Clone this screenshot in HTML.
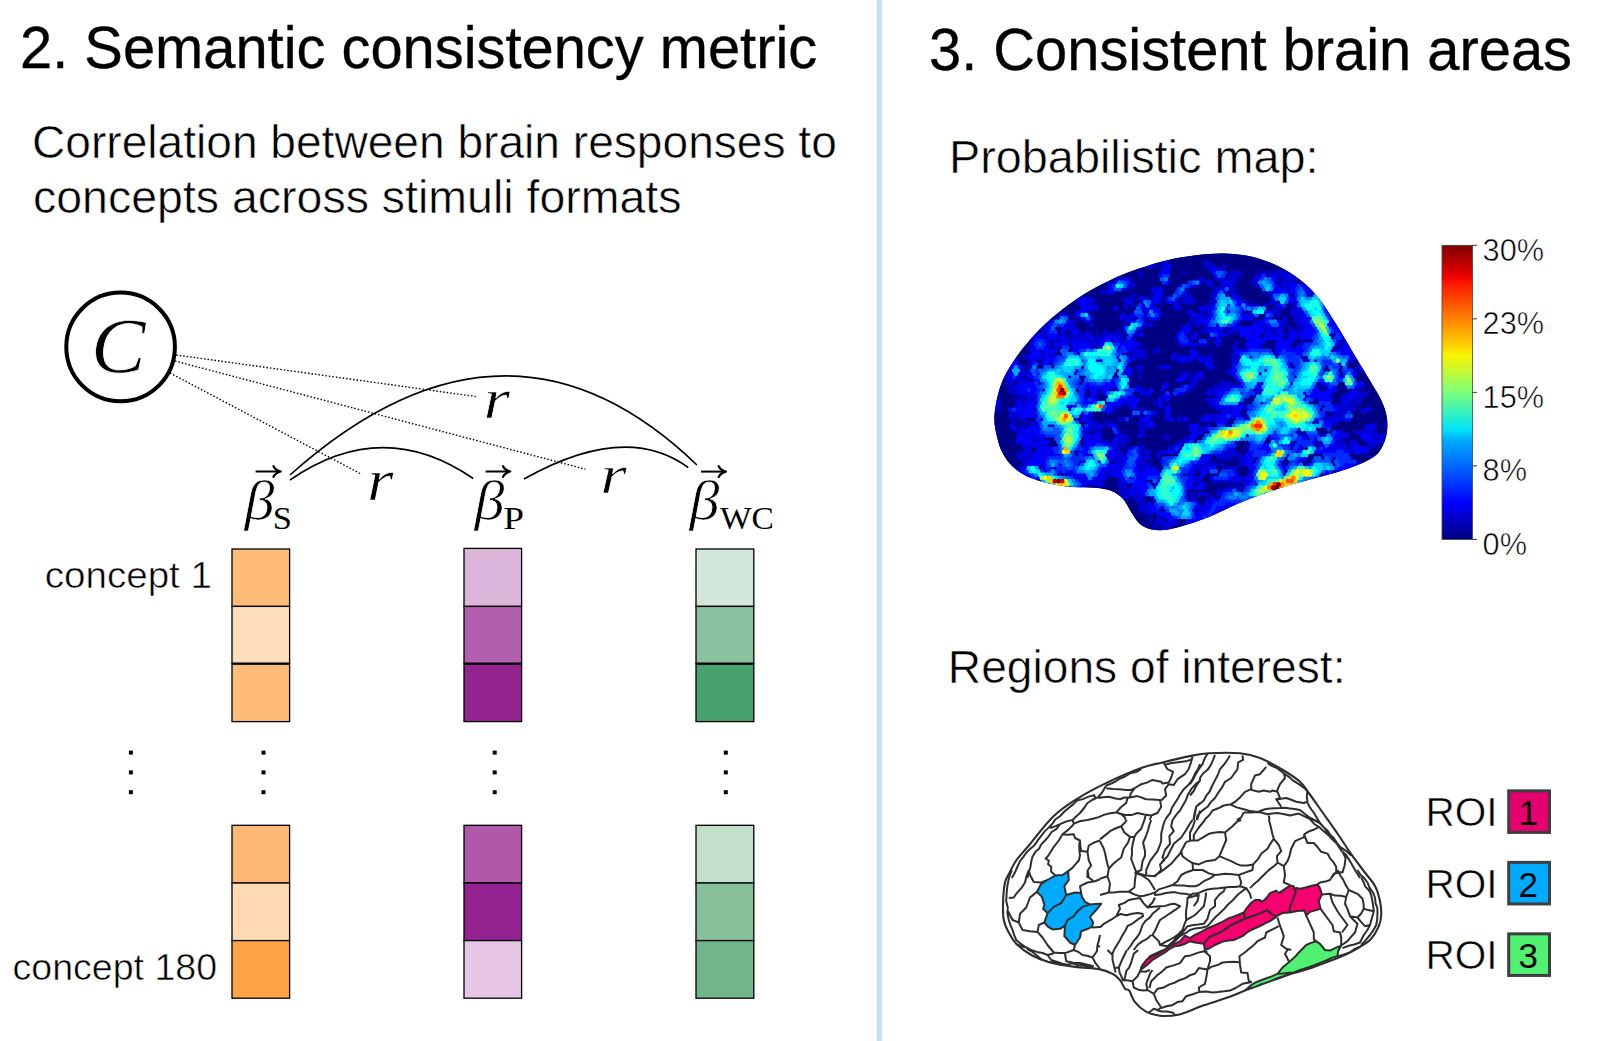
<!DOCTYPE html>
<html lang="en"><head><meta charset="utf-8"><title>Semantic consistency figure</title>
<style>
html,body{margin:0;padding:0;background:#fff;}
body{width:1600px;height:1041px;overflow:hidden;}
svg{display:block;}
text{fill:#000;white-space:pre;}
.lt{stroke:#fff;stroke-width:0.55px;}
.bd{stroke:#000;stroke-width:0.35px;}
.mi{stroke:#fff;stroke-width:0.7px;}
</style></head><body>
<svg width="1600" height="1041" viewBox="0 0 1600 1041">
<rect width="1600" height="1041" fill="#fff"/>
<rect x="876.6" y="0" width="5.6" height="1041" fill="#cbdef0"/>
<text x="20" y="68" font-family='"Liberation Sans", sans-serif' font-size="58.5" textLength="797.2" lengthAdjust="spacingAndGlyphs" class="bd">2. Semantic consistency metric</text>
<text x="929" y="70" font-family='"Liberation Sans", sans-serif' font-size="58.5" textLength="643" lengthAdjust="spacingAndGlyphs" class="bd">3. Consistent brain areas</text>
<text x="32" y="158" font-family='"Liberation Sans", sans-serif' font-size="45.5" textLength="804.8" lengthAdjust="spacingAndGlyphs" class="lt">Correlation between brain responses to</text>
<text x="33" y="212.5" font-family='"Liberation Sans", sans-serif' font-size="45.5" textLength="648.5" lengthAdjust="spacingAndGlyphs" class="lt">concepts across stimuli formats</text>
<text x="948.9" y="173" font-family='"Liberation Sans", sans-serif' font-size="45.5" textLength="369.7" lengthAdjust="spacingAndGlyphs" class="lt">Probabilistic map:</text>
<text x="947.8" y="683" font-family='"Liberation Sans", sans-serif' font-size="45.5" textLength="397.7" lengthAdjust="spacingAndGlyphs" class="lt">Regions of interest:</text>
<text x="44.7" y="588.4" font-family='"Liberation Sans", sans-serif' font-size="37" textLength="167.3" lengthAdjust="spacingAndGlyphs" class="lt">concept 1</text>
<text x="12.6" y="979.5" font-family='"Liberation Sans", sans-serif' font-size="37" textLength="204.5" lengthAdjust="spacingAndGlyphs" class="lt">concept 180</text>
<circle cx="120.6" cy="346.9" r="54.3" fill="none" stroke="#000" stroke-width="4"/>
<text transform="translate(91.00 372.23) scale(1.0586 1)" font-family='"Liberation Serif", serif' font-size="77.32" font-style="italic" class="mi">C</text>
<line x1="176.3" y1="355" x2="475.7" y2="396.5" stroke="#000" stroke-width="1.4" stroke-dasharray="1.5 2"/>
<line x1="175" y1="361" x2="585.4" y2="469.2" stroke="#000" stroke-width="1.4" stroke-dasharray="1.5 2"/>
<line x1="170" y1="373" x2="361" y2="474" stroke="#000" stroke-width="1.4" stroke-dasharray="1.5 2"/>
<path d="M290 480 Q382.4 415.95000000000005 473.2 478.5" fill="none" stroke="#000" stroke-width="1.6"/>
<path d="M524 479 Q625.9 421.54999999999995 688.2 467.5" fill="none" stroke="#000" stroke-width="1.6"/>
<path d="M290 475 Q506.55 282.0 696.9 465" fill="none" stroke="#000" stroke-width="1.6"/>
<text transform="translate(366.88 500.00) scale(1.1594 1)" font-family='"Liberation Serif", serif' font-size="58.72" font-style="italic" class="mi">r</text>
<text transform="translate(600.28 493.00) scale(1.2308 1)" font-family='"Liberation Serif", serif' font-size="55.32" font-style="italic" class="mi">r</text>
<text transform="translate(483.48 418.00) scale(1.1852 1)" font-family='"Liberation Serif", serif' font-size="57.45" font-style="italic" class="mi">r</text>
<text transform="translate(244.50 519.42) scale(1.1028 1)" font-family='"Liberation Serif", serif' font-size="54.50" font-style="italic" class="mi">β</text>
<text transform="translate(474.55 519.42) scale(1.1028 1)" font-family='"Liberation Serif", serif' font-size="54.50" font-style="italic" class="mi">β</text>
<text transform="translate(689.60 519.42) scale(1.1028 1)" font-family='"Liberation Serif", serif' font-size="54.50" font-style="italic" class="mi">β</text>
<text transform="translate(272.68 529.28) scale(1.0608 1)" font-family='"Liberation Serif", serif' font-size="32.42">S</text>
<text transform="translate(503.28 529.00) scale(1.1983 1)" font-family='"Liberation Serif", serif' font-size="31.15">P</text>
<text transform="translate(719.90 528.92) scale(1.0345 1)" font-family='"Liberation Serif", serif' font-size="32.32">WC</text>
<path d="M255.6 471.5 H279.7" stroke="#000" stroke-width="2" fill="none"/>
<path d="M273.5 466.2 Q275.5 470.3 280.7 471.5 Q275.5 472.7 273.5 476.8" stroke="#000" stroke-width="2.3" fill="none" stroke-linecap="round" stroke-linejoin="round"/>
<path d="M485.6 471.5 H509.2" stroke="#000" stroke-width="2" fill="none"/>
<path d="M503.0 466.2 Q505.0 470.3 510.2 471.5 Q505.0 472.7 503.0 476.8" stroke="#000" stroke-width="2.3" fill="none" stroke-linecap="round" stroke-linejoin="round"/>
<path d="M701 471.6 H724.9" stroke="#000" stroke-width="2" fill="none"/>
<path d="M718.6999999999999 466.3 Q720.6999999999999 470.40000000000003 725.9 471.6 Q720.6999999999999 472.8 718.6999999999999 476.90000000000003" stroke="#000" stroke-width="2.3" fill="none" stroke-linecap="round" stroke-linejoin="round"/>
<rect x="232" y="549" width="57.60000000000002" height="57.39999999999998" fill="#ffbc78" stroke="#000" stroke-width="1.3"/>
<rect x="232" y="606.4" width="57.60000000000002" height="57.30000000000007" fill="#ffdebd" stroke="#000" stroke-width="1.3"/>
<rect x="232" y="663.7" width="57.60000000000002" height="57.89999999999998" fill="#ffbc78" stroke="#000" stroke-width="1.3"/>
<path d="M232 663.7 H289.6" stroke="#000" stroke-width="2.2"/>
<rect x="464" y="548.4" width="57.60000000000002" height="58.0" fill="#dcb5da" stroke="#000" stroke-width="1.3"/>
<rect x="464" y="606.4" width="57.60000000000002" height="57.30000000000007" fill="#b25faf" stroke="#000" stroke-width="1.3"/>
<rect x="464" y="663.7" width="57.60000000000002" height="57.89999999999998" fill="#93248f" stroke="#000" stroke-width="1.3"/>
<path d="M464 663.7 H521.6" stroke="#000" stroke-width="2.2"/>
<rect x="696" y="549" width="57.799999999999955" height="57.39999999999998" fill="#d2e7da" stroke="#000" stroke-width="1.3"/>
<rect x="696" y="606.4" width="57.799999999999955" height="57.30000000000007" fill="#8bc3a0" stroke="#000" stroke-width="1.3"/>
<rect x="696" y="663.7" width="57.799999999999955" height="57.89999999999998" fill="#47a270" stroke="#000" stroke-width="1.3"/>
<path d="M696 663.7 H753.8" stroke="#000" stroke-width="2.2"/>
<rect x="232" y="825.3" width="57.60000000000002" height="57.700000000000045" fill="#ffb873" stroke="#000" stroke-width="1.3"/>
<rect x="232" y="883" width="57.60000000000002" height="57.60000000000002" fill="#ffdab3" stroke="#000" stroke-width="1.3"/>
<rect x="232" y="940.6" width="57.60000000000002" height="57.60000000000002" fill="#ffa548" stroke="#000" stroke-width="1.3"/>
<rect x="464" y="825.3" width="57.60000000000002" height="57.700000000000045" fill="#b058a9" stroke="#000" stroke-width="1.3"/>
<rect x="464" y="883" width="57.60000000000002" height="57.60000000000002" fill="#92228f" stroke="#000" stroke-width="1.3"/>
<rect x="464" y="940.6" width="57.60000000000002" height="57.60000000000002" fill="#e5c5e3" stroke="#000" stroke-width="1.3"/>
<rect x="696" y="825.3" width="57.799999999999955" height="57.700000000000045" fill="#c3dfce" stroke="#000" stroke-width="1.3"/>
<rect x="696" y="883" width="57.799999999999955" height="57.60000000000002" fill="#87c19c" stroke="#000" stroke-width="1.3"/>
<rect x="696" y="940.6" width="57.799999999999955" height="57.60000000000002" fill="#71b58b" stroke="#000" stroke-width="1.3"/>
<rect x="128.9" y="750.6" width="4" height="4" fill="#000"/>
<rect x="128.9" y="770.4" width="4" height="4" fill="#000"/>
<rect x="128.9" y="790.2" width="4" height="4" fill="#000"/>
<rect x="261.5" y="750.6" width="4" height="4" fill="#000"/>
<rect x="261.5" y="770.4" width="4" height="4" fill="#000"/>
<rect x="261.5" y="790.2" width="4" height="4" fill="#000"/>
<rect x="492.7" y="750.6" width="4" height="4" fill="#000"/>
<rect x="492.7" y="770.4" width="4" height="4" fill="#000"/>
<rect x="492.7" y="790.2" width="4" height="4" fill="#000"/>
<rect x="723.8" y="750.6" width="4" height="4" fill="#000"/>
<rect x="723.8" y="770.4" width="4" height="4" fill="#000"/>
<rect x="723.8" y="790.2" width="4" height="4" fill="#000"/>
<defs><linearGradient id="jet" x1="0" y1="1" x2="0" y2="0">
<stop offset="0" stop-color="#00007f"/><stop offset="0.11" stop-color="#0000f0"/><stop offset="0.125" stop-color="#0000ff"/>
<stop offset="0.34" stop-color="#00b0ff"/><stop offset="0.375" stop-color="#00e4f8"/><stop offset="0.5" stop-color="#7dff7a"/><stop offset="0.625" stop-color="#f8f500"/>
<stop offset="0.66" stop-color="#ffd000"/><stop offset="0.875" stop-color="#ff1300"/><stop offset="0.89" stop-color="#f00000"/><stop offset="1" stop-color="#7f0000"/>
</linearGradient></defs>
<rect x="1442" y="245.3" width="30.5" height="294.1" fill="url(#jet)" stroke="#444" stroke-width="0.8"/>
<path d="M1472.5 245.3 H1477" stroke="#333" stroke-width="1"/>
<text x="1482.6" y="260.5" font-family='"Liberation Sans", sans-serif' font-size="30.5" textLength="61.4" lengthAdjust="spacingAndGlyphs" class="lt">30%</text>
<path d="M1472.5 318.83000000000004 H1477" stroke="#333" stroke-width="1"/>
<text x="1482.6" y="334.0" font-family='"Liberation Sans", sans-serif' font-size="30.5" textLength="61.4" lengthAdjust="spacingAndGlyphs" class="lt">23%</text>
<path d="M1472.5 392.36 H1477" stroke="#333" stroke-width="1"/>
<text x="1482.6" y="407.6" font-family='"Liberation Sans", sans-serif' font-size="30.5" textLength="61.4" lengthAdjust="spacingAndGlyphs" class="lt">15%</text>
<path d="M1472.5 465.89 H1477" stroke="#333" stroke-width="1"/>
<text x="1482.6" y="481.1" font-family='"Liberation Sans", sans-serif' font-size="30.5" textLength="44.4" lengthAdjust="spacingAndGlyphs" class="lt">8%</text>
<path d="M1472.5 539.4200000000001 H1477" stroke="#333" stroke-width="1"/>
<text x="1482.6" y="554.6" font-family='"Liberation Sans", sans-serif' font-size="30.5" textLength="44.4" lengthAdjust="spacingAndGlyphs" class="lt">0%</text>
<text x="1425.5" y="826.25" font-family='"Liberation Sans", sans-serif' font-size="40" textLength="72" lengthAdjust="spacingAndGlyphs" class="lt">ROI</text>
<rect x="1508.7" y="790.85" width="40.8" height="41.6" fill="#e5006e" stroke="#3c4040" stroke-width="3"/>
<text x="1528.3" y="825.45" font-family='"Liberation Sans", sans-serif' font-size="35" text-anchor="middle">1</text>
<text x="1425.5" y="897.75" font-family='"Liberation Sans", sans-serif' font-size="40" textLength="72" lengthAdjust="spacingAndGlyphs" class="lt">ROI</text>
<rect x="1508.7" y="862.35" width="40.8" height="41.6" fill="#00aaff" stroke="#3c4040" stroke-width="3"/>
<text x="1528.3" y="896.95" font-family='"Liberation Sans", sans-serif' font-size="35" text-anchor="middle">2</text>
<text x="1425.5" y="969.25" font-family='"Liberation Sans", sans-serif' font-size="40" textLength="72" lengthAdjust="spacingAndGlyphs" class="lt">ROI</text>
<rect x="1508.7" y="933.85" width="40.8" height="41.6" fill="#50f070" stroke="#3c4040" stroke-width="3"/>
<text x="1528.3" y="968.45" font-family='"Liberation Sans", sans-serif' font-size="35" text-anchor="middle">3</text>
<defs><clipPath id="bclip"><path d="M1223.3 253.6C1232.6 253.8 1242.9 254.6 1252.0 256.7C1261.1 258.8 1269.8 262.1 1278.0 266.0C1286.2 269.9 1294.3 275.1 1301.0 280.4C1307.7 285.7 1312.6 290.5 1318.4 297.7C1324.2 304.9 1329.9 314.5 1335.7 323.6C1341.5 332.7 1347.2 342.9 1353.0 352.5C1358.8 362.1 1365.5 373.1 1370.3 381.3C1375.1 389.5 1379.0 395.2 1381.8 401.5C1384.6 407.8 1386.3 413.0 1387.0 418.8C1387.7 424.6 1387.5 430.6 1386.2 436.1C1384.9 441.6 1382.6 447.6 1379.0 451.9C1375.4 456.2 1370.8 458.9 1364.5 462.0C1358.2 465.1 1349.7 468.1 1341.5 470.7C1333.3 473.3 1324.2 475.5 1315.5 477.9C1306.8 480.3 1298.2 482.5 1289.6 485.1C1280.9 487.8 1272.2 490.7 1263.6 493.8C1254.9 496.9 1246.2 500.2 1237.7 503.8C1229.2 507.4 1220.8 512.0 1212.5 515.4C1204.2 518.8 1195.7 521.9 1188.1 524.3C1180.5 526.7 1173.2 528.9 1167.0 529.7C1160.8 530.5 1155.3 530.2 1150.7 529.2C1146.1 528.2 1142.7 526.4 1139.4 523.5C1136.2 520.6 1133.9 516.2 1131.2 512.1C1128.5 508.0 1126.3 502.6 1123.1 499.1C1119.8 495.6 1116.3 492.9 1111.7 491.0C1107.1 489.1 1102.0 488.4 1095.5 487.7C1089.0 487.0 1080.3 487.6 1072.7 486.9C1065.1 486.2 1057.6 485.4 1050.0 483.7C1042.4 481.9 1033.4 479.2 1027.2 476.4C1021.0 473.5 1016.7 470.4 1012.6 466.6C1008.5 462.8 1005.5 458.5 1002.9 453.6C1000.3 448.7 998.6 443.7 997.2 437.4C995.8 431.1 993.9 424.4 994.4 416.0C994.9 407.6 997.3 395.7 1000.2 387.0C1003.1 378.3 1006.9 371.7 1011.7 364.0C1016.5 356.3 1022.3 348.6 1029.0 340.9C1035.7 333.2 1043.4 325.2 1052.1 317.8C1060.8 310.4 1071.3 302.4 1080.9 296.2C1090.5 290.0 1100.1 285.0 1109.7 280.4C1119.3 275.8 1128.9 272.2 1138.5 268.8C1148.1 265.4 1157.8 262.4 1167.4 260.2C1177.0 257.9 1186.9 256.4 1196.2 255.3C1205.5 254.2 1214.0 253.4 1223.3 253.6Z"/></clipPath><filter id="soft" x="-2%" y="-2%" width="104%" height="104%"><feGaussianBlur stdDeviation="0.55"/></filter></defs>
<path d="M1223.3 253.6C1232.6 253.8 1242.9 254.6 1252.0 256.7C1261.1 258.8 1269.8 262.1 1278.0 266.0C1286.2 269.9 1294.3 275.1 1301.0 280.4C1307.7 285.7 1312.6 290.5 1318.4 297.7C1324.2 304.9 1329.9 314.5 1335.7 323.6C1341.5 332.7 1347.2 342.9 1353.0 352.5C1358.8 362.1 1365.5 373.1 1370.3 381.3C1375.1 389.5 1379.0 395.2 1381.8 401.5C1384.6 407.8 1386.3 413.0 1387.0 418.8C1387.7 424.6 1387.5 430.6 1386.2 436.1C1384.9 441.6 1382.6 447.6 1379.0 451.9C1375.4 456.2 1370.8 458.9 1364.5 462.0C1358.2 465.1 1349.7 468.1 1341.5 470.7C1333.3 473.3 1324.2 475.5 1315.5 477.9C1306.8 480.3 1298.2 482.5 1289.6 485.1C1280.9 487.8 1272.2 490.7 1263.6 493.8C1254.9 496.9 1246.2 500.2 1237.7 503.8C1229.2 507.4 1220.8 512.0 1212.5 515.4C1204.2 518.8 1195.7 521.9 1188.1 524.3C1180.5 526.7 1173.2 528.9 1167.0 529.7C1160.8 530.5 1155.3 530.2 1150.7 529.2C1146.1 528.2 1142.7 526.4 1139.4 523.5C1136.2 520.6 1133.9 516.2 1131.2 512.1C1128.5 508.0 1126.3 502.6 1123.1 499.1C1119.8 495.6 1116.3 492.9 1111.7 491.0C1107.1 489.1 1102.0 488.4 1095.5 487.7C1089.0 487.0 1080.3 487.6 1072.7 486.9C1065.1 486.2 1057.6 485.4 1050.0 483.7C1042.4 481.9 1033.4 479.2 1027.2 476.4C1021.0 473.5 1016.7 470.4 1012.6 466.6C1008.5 462.8 1005.5 458.5 1002.9 453.6C1000.3 448.7 998.6 443.7 997.2 437.4C995.8 431.1 993.9 424.4 994.4 416.0C994.9 407.6 997.3 395.7 1000.2 387.0C1003.1 378.3 1006.9 371.7 1011.7 364.0C1016.5 356.3 1022.3 348.6 1029.0 340.9C1035.7 333.2 1043.4 325.2 1052.1 317.8C1060.8 310.4 1071.3 302.4 1080.9 296.2C1090.5 290.0 1100.1 285.0 1109.7 280.4C1119.3 275.8 1128.9 272.2 1138.5 268.8C1148.1 265.4 1157.8 262.4 1167.4 260.2C1177.0 257.9 1186.9 256.4 1196.2 255.3C1205.5 254.2 1214.0 253.4 1223.3 253.6Z" fill="#000084"/>
<g clip-path="url(#bclip)"><g filter="url(#soft)" fill="none" stroke-width="4.7" stroke-linecap="round">
<rect x="985" y="245" width="410" height="295" fill="#000084" stroke="none"/>
<path stroke="#0000d4" d="M1163.9 263h0M1167.6 263h0M1204.6 263h0M1208.3 263h0M1147.3 266.3h0M1151 266.3h0M1154.7 266.3h0M1162.1 266.3h0M1165.8 266.3h0M1206.5 266.3h0M1210.2 266.3h0M1213.9 266.3h0M1225 266.3h0M1219.4 269.5h0M1223.1 269.5h0M1286 269.5h0M1139.9 272.8h0M1165.8 272.8h0M1169.5 272.8h0M1184.3 272.8h0M1232.4 272.8h0M1236.1 272.8h0M1239.8 272.8h0M1262 272.8h0M1265.7 272.8h0M1273.1 272.8h0M1276.8 272.8h0M1280.5 272.8h0M1284.2 272.8h0M1287.9 272.8h0M1291.6 272.8h0M1141.7 276h0M1230.5 276h0M1234.2 276h0M1237.9 276h0M1256.4 276h0M1260.1 276h0M1274.9 276h0M1278.6 276h0M1282.3 276h0M1286 276h0M1289.7 276h0M1293.4 276h0M1117.7 279.3h0M1121.4 279.3h0M1125.1 279.3h0M1128.8 279.3h0M1199.1 279.3h0M1202.8 279.3h0M1217.6 279.3h0M1221.3 279.3h0M1225 279.3h0M1228.7 279.3h0M1232.4 279.3h0M1236.1 279.3h0M1254.6 279.3h0M1258.3 279.3h0M1276.8 279.3h0M1284.2 279.3h0M1287.9 279.3h0M1291.6 279.3h0M1295.3 279.3h0M1108.4 282.6h0M1200.9 282.6h0M1212 282.6h0M1223.1 282.6h0M1230.5 282.6h0M1234.2 282.6h0M1252.7 282.6h0M1256.4 282.6h0M1282.3 282.6h0M1286 282.6h0M1289.7 282.6h0M1293.4 282.6h0M1110.3 285.8h0M1128.8 285.8h0M1132.5 285.8h0M1180.6 285.8h0M1195.4 285.8h0M1210.2 285.8h0M1221.3 285.8h0M1225 285.8h0M1232.4 285.8h0M1258.3 285.8h0M1284.2 285.8h0M1287.9 285.8h0M1108.4 289.1h0M1123.2 289.1h0M1126.9 289.1h0M1156.5 289.1h0M1186.1 289.1h0M1215.7 289.1h0M1219.4 289.1h0M1230.5 289.1h0M1234.2 289.1h0M1278.6 289.1h0M1286 289.1h0M1289.7 289.1h0M1102.9 292.3h0M1106.6 292.3h0M1114 292.3h0M1154.7 292.3h0M1162.1 292.3h0M1213.9 292.3h0M1225 292.3h0M1232.4 292.3h0M1265.7 292.3h0M1269.4 292.3h0M1273.1 292.3h0M1287.9 292.3h0M1310.1 292.3h0M1313.8 292.3h0M1134.3 295.6h0M1152.8 295.6h0M1182.4 295.6h0M1186.1 295.6h0M1189.8 295.6h0M1212 295.6h0M1215.7 295.6h0M1226.8 295.6h0M1237.9 295.6h0M1271.2 295.6h0M1289.7 295.6h0M1311.9 295.6h0M1077 298.8h0M1080.7 298.8h0M1088.1 298.8h0M1091.8 298.8h0M1125.1 298.8h0M1128.8 298.8h0M1132.5 298.8h0M1139.9 298.8h0M1147.3 298.8h0M1165.8 298.8h0M1184.3 298.8h0M1188 298.8h0M1191.7 298.8h0M1213.9 298.8h0M1232.4 298.8h0M1239.8 298.8h0M1273.1 298.8h0M1078.8 302.1h0M1089.9 302.1h0M1093.6 302.1h0M1126.9 302.1h0M1141.7 302.1h0M1152.8 302.1h0M1160.2 302.1h0M1167.6 302.1h0M1175 302.1h0M1182.4 302.1h0M1186.1 302.1h0M1189.8 302.1h0M1193.5 302.1h0M1212 302.1h0M1215.7 302.1h0M1245.3 302.1h0M1271.2 302.1h0M1274.9 302.1h0M1289.7 302.1h0M1293.4 302.1h0M1080.7 305.4h0M1088.1 305.4h0M1091.8 305.4h0M1095.5 305.4h0M1125.1 305.4h0M1132.5 305.4h0M1143.6 305.4h0M1206.5 305.4h0M1210.2 305.4h0M1213.9 305.4h0M1250.9 305.4h0M1254.6 305.4h0M1258.3 305.4h0M1265.7 305.4h0M1276.8 305.4h0M1295.3 305.4h0M1082.5 308.6h0M1093.6 308.6h0M1097.3 308.6h0M1126.9 308.6h0M1145.4 308.6h0M1175 308.6h0M1204.6 308.6h0M1208.3 308.6h0M1274.9 308.6h0M1278.6 308.6h0M1282.3 308.6h0M1293.4 308.6h0M1297.1 308.6h0M1077 311.9h0M1143.6 311.9h0M1147.3 311.9h0M1154.7 311.9h0M1188 311.9h0M1191.7 311.9h0M1202.8 311.9h0M1250.9 311.9h0M1265.7 311.9h0M1273.1 311.9h0M1276.8 311.9h0M1291.6 311.9h0M1295.3 311.9h0M1299 311.9h0M1328.6 311.9h0M1060.3 315.1h0M1064 315.1h0M1067.7 315.1h0M1075.1 315.1h0M1089.9 315.1h0M1130.6 315.1h0M1145.4 315.1h0M1160.2 315.1h0M1197.2 315.1h0M1200.9 315.1h0M1204.6 315.1h0M1274.9 315.1h0M1278.6 315.1h0M1293.4 315.1h0M1297.1 315.1h0M1300.8 315.1h0M1330.4 315.1h0M1058.5 318.4h0M1080.7 318.4h0M1091.8 318.4h0M1125.1 318.4h0M1128.8 318.4h0M1132.5 318.4h0M1143.6 318.4h0M1158.4 318.4h0M1191.7 318.4h0M1195.4 318.4h0M1199.1 318.4h0M1202.8 318.4h0M1206.5 318.4h0M1284.2 318.4h0M1295.3 318.4h0M1299 318.4h0M1310.1 318.4h0M1049.2 321.6h0M1071.4 321.6h0M1075.1 321.6h0M1086.2 321.6h0M1089.9 321.6h0M1126.9 321.6h0M1130.6 321.6h0M1145.4 321.6h0M1193.5 321.6h0M1197.2 321.6h0M1256.4 321.6h0M1260.1 321.6h0M1282.3 321.6h0M1286 321.6h0M1297.1 321.6h0M1300.8 321.6h0M1047.4 324.9h0M1069.6 324.9h0M1073.3 324.9h0M1091.8 324.9h0M1125.1 324.9h0M1143.6 324.9h0M1147.3 324.9h0M1188 324.9h0M1195.4 324.9h0M1199.1 324.9h0M1217.6 324.9h0M1262 324.9h0M1265.7 324.9h0M1280.5 324.9h0M1284.2 324.9h0M1299 324.9h0M1302.7 324.9h0M1328.6 324.9h0M1041.8 328.1h0M1045.5 328.1h0M1067.7 328.1h0M1071.4 328.1h0M1075.1 328.1h0M1123.2 328.1h0M1141.7 328.1h0M1182.4 328.1h0M1189.8 328.1h0M1204.6 328.1h0M1208.3 328.1h0M1212 328.1h0M1230.5 328.1h0M1234.2 328.1h0M1237.9 328.1h0M1263.8 328.1h0M1267.5 328.1h0M1271.2 328.1h0M1274.9 328.1h0M1278.6 328.1h0M1282.3 328.1h0M1289.7 328.1h0M1300.8 328.1h0M1304.5 328.1h0M1043.7 331.4h0M1047.4 331.4h0M1062.2 331.4h0M1065.9 331.4h0M1088.1 331.4h0M1106.6 331.4h0M1117.7 331.4h0M1125.1 331.4h0M1136.2 331.4h0M1180.6 331.4h0M1202.8 331.4h0M1206.5 331.4h0M1221.3 331.4h0M1228.7 331.4h0M1232.4 331.4h0M1236.1 331.4h0M1239.8 331.4h0M1254.6 331.4h0M1265.7 331.4h0M1269.4 331.4h0M1273.1 331.4h0M1276.8 331.4h0M1291.6 331.4h0M1295.3 331.4h0M1299 331.4h0M1302.7 331.4h0M1034.4 334.7h0M1038.1 334.7h0M1041.8 334.7h0M1045.5 334.7h0M1064 334.7h0M1071.4 334.7h0M1075.1 334.7h0M1078.8 334.7h0M1082.5 334.7h0M1086.2 334.7h0M1089.9 334.7h0M1097.3 334.7h0M1104.7 334.7h0M1108.4 334.7h0M1112.1 334.7h0M1115.8 334.7h0M1119.5 334.7h0M1126.9 334.7h0M1134.3 334.7h0M1138 334.7h0M1186.1 334.7h0M1193.5 334.7h0M1197.2 334.7h0M1223.1 334.7h0M1226.8 334.7h0M1252.7 334.7h0M1260.1 334.7h0M1271.2 334.7h0M1274.9 334.7h0M1278.6 334.7h0M1297.1 334.7h0M1300.8 334.7h0M1330.4 334.7h0M1032.6 337.9h0M1043.7 337.9h0M1047.4 337.9h0M1058.5 337.9h0M1065.9 337.9h0M1073.3 337.9h0M1077 337.9h0M1080.7 337.9h0M1084.4 337.9h0M1088.1 337.9h0M1099.2 337.9h0M1102.9 337.9h0M1117.7 337.9h0M1121.4 337.9h0M1132.5 337.9h0M1176.9 337.9h0M1191.7 337.9h0M1195.4 337.9h0M1210.2 337.9h0M1254.6 337.9h0M1295.3 337.9h0M1049.2 341.2h0M1056.6 341.2h0M1067.7 341.2h0M1071.4 341.2h0M1078.8 341.2h0M1082.5 341.2h0M1093.6 341.2h0M1097.3 341.2h0M1119.5 341.2h0M1123.2 341.2h0M1126.9 341.2h0M1134.3 341.2h0M1178.7 341.2h0M1189.8 341.2h0M1215.7 341.2h0M1293.4 341.2h0M1345.2 341.2h0M1032.6 344.4h0M1077 344.4h0M1091.8 344.4h0M1095.5 344.4h0M1099.2 344.4h0M1136.2 344.4h0M1139.9 344.4h0M1180.6 344.4h0M1191.7 344.4h0M1195.4 344.4h0M1199.1 344.4h0M1202.8 344.4h0M1206.5 344.4h0M1236.1 344.4h0M1258.3 344.4h0M1262 344.4h0M1030.7 347.7h0M1049.2 347.7h0M1056.6 347.7h0M1093.6 347.7h0M1101 347.7h0M1134.3 347.7h0M1138 347.7h0M1234.2 347.7h0M1341.5 347.7h0M1040 350.9h0M1043.7 350.9h0M1128.8 350.9h0M1132.5 350.9h0M1136.2 350.9h0M1139.9 350.9h0M1143.6 350.9h0M1154.7 350.9h0M1158.4 350.9h0M1195.4 350.9h0M1350.8 350.9h0M1030.7 354.2h0M1041.8 354.2h0M1045.5 354.2h0M1049.2 354.2h0M1052.9 354.2h0M1123.2 354.2h0M1134.3 354.2h0M1138 354.2h0M1141.7 354.2h0M1145.4 354.2h0M1175 354.2h0M1197.2 354.2h0M1234.2 354.2h0M1237.9 354.2h0M1352.6 354.2h0M1025.2 357.4h0M1028.9 357.4h0M1043.7 357.4h0M1051.1 357.4h0M1117.7 357.4h0M1132.5 357.4h0M1136.2 357.4h0M1139.9 357.4h0M1143.6 357.4h0M1176.9 357.4h0M1180.6 357.4h0M1184.3 357.4h0M1188 357.4h0M1195.4 357.4h0M1199.1 357.4h0M1202.8 357.4h0M1206.5 357.4h0M1210.2 357.4h0M1232.4 357.4h0M1236.1 357.4h0M1250.9 357.4h0M1276.8 357.4h0M1354.5 357.4h0M1015.9 360.7h0M1030.7 360.7h0M1097.3 360.7h0M1119.5 360.7h0M1178.7 360.7h0M1186.1 360.7h0M1189.8 360.7h0M1204.6 360.7h0M1208.3 360.7h0M1212 360.7h0M1234.2 360.7h0M1304.5 360.7h0M1308.2 360.7h0M1315.6 360.7h0M1348.9 360.7h0M1352.6 360.7h0M1017.8 364h0M1210.2 364h0M1232.4 364h0M1339.7 364h0M1347.1 364h0M1023.3 367.2h0M1030.7 367.2h0M1138 367.2h0M1141.7 367.2h0M1160.2 367.2h0M1163.9 367.2h0M1208.3 367.2h0M1010.4 370.5h0M1021.5 370.5h0M1028.9 370.5h0M1077 370.5h0M1125.1 370.5h0M1132.5 370.5h0M1139.9 370.5h0M1228.7 370.5h0M1265.7 370.5h0M1354.5 370.5h0M1361.9 370.5h0M1008.5 373.7h0M1019.6 373.7h0M1023.3 373.7h0M1027 373.7h0M1075.1 373.7h0M1123.2 373.7h0M1126.9 373.7h0M1182.4 373.7h0M1186.1 373.7h0M1197.2 373.7h0M1230.5 373.7h0M1260.1 373.7h0M1356.3 373.7h0M1006.7 377h0M1010.4 377h0M1017.8 377h0M1021.5 377h0M1069.6 377h0M1084.4 377h0M1117.7 377h0M1128.8 377h0M1139.9 377h0M1180.6 377h0M1188 377h0M1191.7 377h0M1195.4 377h0M1199.1 377h0M1202.8 377h0M1354.5 377h0M1008.5 380.2h0M1015.9 380.2h0M1019.6 380.2h0M1023.3 380.2h0M1182.4 380.2h0M1193.5 380.2h0M1197.2 380.2h0M1006.7 383.5h0M1010.4 383.5h0M1165.8 383.5h0M1191.7 383.5h0M1195.4 383.5h0M1221.3 383.5h0M1225 383.5h0M1228.7 383.5h0M1258.3 383.5h0M1262 383.5h0M1291.6 383.5h0M1012.2 386.8h0M1015.9 386.8h0M1138 386.8h0M1167.6 386.8h0M1193.5 386.8h0M1215.7 386.8h0M1219.4 386.8h0M1223.1 386.8h0M1226.8 386.8h0M1230.5 386.8h0M1326.7 386.8h0M1360 386.8h0M1363.7 386.8h0M1010.4 390h0M1014.1 390h0M1017.8 390h0M1043.7 390h0M1102.9 390h0M1143.6 390h0M1162.1 390h0M1188 390h0M1210.2 390h0M1213.9 390h0M1217.6 390h0M1221.3 390h0M1254.6 390h0M1258.3 390h0M1262 390h0M1336 390h0M1354.5 390h0M1012.2 393.3h0M1015.9 393.3h0M1019.6 393.3h0M1097.3 393.3h0M1145.4 393.3h0M1182.4 393.3h0M1212 393.3h0M1215.7 393.3h0M1256.4 393.3h0M1260.1 393.3h0M1348.9 393.3h0M1360 393.3h0M1363.7 393.3h0M1367.4 393.3h0M1021.5 396.5h0M1028.9 396.5h0M1032.6 396.5h0M1095.5 396.5h0M1147.3 396.5h0M1162.1 396.5h0M1169.5 396.5h0M1217.6 396.5h0M1343.4 396.5h0M1347.1 396.5h0M1354.5 396.5h0M1358.2 396.5h0M1361.9 396.5h0M997.4 399.8h0M1015.9 399.8h0M1019.6 399.8h0M1023.3 399.8h0M1027 399.8h0M1030.7 399.8h0M1034.4 399.8h0M1097.3 399.8h0M1130.6 399.8h0M1208.3 399.8h0M1212 399.8h0M1304.5 399.8h0M1341.5 399.8h0M1345.2 399.8h0M1352.6 399.8h0M1356.3 399.8h0M1360 399.8h0M999.3 403h0M1017.8 403h0M1021.5 403h0M1025.2 403h0M1125.1 403h0M1128.8 403h0M1154.7 403h0M1158.4 403h0M1162.1 403h0M1210.2 403h0M1213.9 403h0M1243.5 403h0M1262 403h0M1347.1 403h0M1350.8 403h0M1358.2 403h0M997.4 406.3h0M1015.9 406.3h0M1067.7 406.3h0M1071.4 406.3h0M1075.1 406.3h0M1115.8 406.3h0M1119.5 406.3h0M1130.6 406.3h0M1212 406.3h0M1215.7 406.3h0M1337.8 406.3h0M1341.5 406.3h0M1345.2 406.3h0M1348.9 406.3h0M1352.6 406.3h0M995.6 409.5h0M999.3 409.5h0M1021.5 409.5h0M1032.6 409.5h0M1069.6 409.5h0M1114 409.5h0M1132.5 409.5h0M1139.9 409.5h0M1143.6 409.5h0M1165.8 409.5h0M1217.6 409.5h0M1221.3 409.5h0M1225 409.5h0M1228.7 409.5h0M1232.4 409.5h0M1339.7 409.5h0M1343.4 409.5h0M1347.1 409.5h0M1350.8 409.5h0M1354.5 409.5h0M1361.9 409.5h0M1365.6 409.5h0M1012.2 412.8h0M1015.9 412.8h0M1034.4 412.8h0M1082.5 412.8h0M1156.5 412.8h0M1223.1 412.8h0M1230.5 412.8h0M1334.1 412.8h0M1337.8 412.8h0M1341.5 412.8h0M1345.2 412.8h0M1363.7 412.8h0M1010.4 416.1h0M1014.1 416.1h0M1017.8 416.1h0M1021.5 416.1h0M1088.1 416.1h0M1091.8 416.1h0M1132.5 416.1h0M1139.9 416.1h0M1151 416.1h0M1165.8 416.1h0M1169.5 416.1h0M1210.2 416.1h0M1213.9 416.1h0M1221.3 416.1h0M1247.2 416.1h0M1332.3 416.1h0M1336 416.1h0M1012.2 419.3h0M1019.6 419.3h0M1023.3 419.3h0M1041.8 419.3h0M1075.1 419.3h0M1089.9 419.3h0M1119.5 419.3h0M1123.2 419.3h0M1141.7 419.3h0M1149.1 419.3h0M1167.6 419.3h0M1182.4 419.3h0M1200.9 419.3h0M1212 419.3h0M1215.7 419.3h0M1219.4 419.3h0M1245.3 419.3h0M1249 419.3h0M1315.6 419.3h0M1334.1 419.3h0M1341.5 419.3h0M1014.1 422.6h0M1025.2 422.6h0M1032.6 422.6h0M1036.3 422.6h0M1091.8 422.6h0M1095.5 422.6h0M1106.6 422.6h0M1110.3 422.6h0M1139.9 422.6h0M1143.6 422.6h0M1147.3 422.6h0M1317.5 422.6h0M1332.3 422.6h0M1336 422.6h0M1387.8 422.6h0M1023.3 425.8h0M1030.7 425.8h0M1034.4 425.8h0M1049.2 425.8h0M1052.9 425.8h0M1089.9 425.8h0M1093.6 425.8h0M1097.3 425.8h0M1108.4 425.8h0M1115.8 425.8h0M1141.7 425.8h0M1145.4 425.8h0M1189.8 425.8h0M1208.3 425.8h0M1230.5 425.8h0M1367.4 425.8h0M1374.8 425.8h0M1385.9 425.8h0M1017.8 429.1h0M1021.5 429.1h0M1025.2 429.1h0M1091.8 429.1h0M1099.2 429.1h0M1117.7 429.1h0M1139.9 429.1h0M1143.6 429.1h0M1202.8 429.1h0M1299 429.1h0M1365.6 429.1h0M1373 429.1h0M1387.8 429.1h0M1019.6 432.3h0M1093.6 432.3h0M1097.3 432.3h0M1101 432.3h0M1119.5 432.3h0M1141.7 432.3h0M1197.2 432.3h0M1297.1 432.3h0M1341.5 432.3h0M1356.3 432.3h0M1360 432.3h0M1363.7 432.3h0M1367.4 432.3h0M1371.1 432.3h0M1374.8 432.3h0M1017.8 435.6h0M1025.2 435.6h0M1032.6 435.6h0M1091.8 435.6h0M1095.5 435.6h0M1099.2 435.6h0M1117.7 435.6h0M1121.4 435.6h0M1125.1 435.6h0M1143.6 435.6h0M1165.8 435.6h0M1247.2 435.6h0M1269.4 435.6h0M1302.7 435.6h0M1306.4 435.6h0M1321.2 435.6h0M1324.9 435.6h0M1339.7 435.6h0M1373 435.6h0M1376.7 435.6h0M1380.4 435.6h0M1384.1 435.6h0M1030.7 438.8h0M1034.4 438.8h0M1038.1 438.8h0M1089.9 438.8h0M1093.6 438.8h0M1101 438.8h0M1119.5 438.8h0M1123.2 438.8h0M1126.9 438.8h0M1167.6 438.8h0M1186.1 438.8h0M1189.8 438.8h0M1337.8 438.8h0M1341.5 438.8h0M1374.8 438.8h0M1378.5 438.8h0M1382.2 438.8h0M1021.5 442.1h0M1032.6 442.1h0M1036.3 442.1h0M1040 442.1h0M1088.1 442.1h0M1099.2 442.1h0M1102.9 442.1h0M1106.6 442.1h0M1117.7 442.1h0M1121.4 442.1h0M1125.1 442.1h0M1180.6 442.1h0M1184.3 442.1h0M1236.1 442.1h0M1291.6 442.1h0M1321.2 442.1h0M1336 442.1h0M1339.7 442.1h0M1343.4 442.1h0M1350.8 442.1h0M1354.5 442.1h0M1373 442.1h0M1376.7 442.1h0M1380.4 442.1h0M1384.1 442.1h0M1023.3 445.4h0M1030.7 445.4h0M1041.8 445.4h0M1045.5 445.4h0M1112.1 445.4h0M1123.2 445.4h0M1141.7 445.4h0M1175 445.4h0M1249 445.4h0M1289.7 445.4h0M1293.4 445.4h0M1319.3 445.4h0M1323 445.4h0M1334.1 445.4h0M1337.8 445.4h0M1341.5 445.4h0M1345.2 445.4h0M1352.6 445.4h0M1371.1 445.4h0M1374.8 445.4h0M1025.2 448.6h0M1028.9 448.6h0M1043.7 448.6h0M1114 448.6h0M1117.7 448.6h0M1128.8 448.6h0M1139.9 448.6h0M1143.6 448.6h0M1169.5 448.6h0M1173.2 448.6h0M1180.6 448.6h0M1228.7 448.6h0M1306.4 448.6h0M1317.5 448.6h0M1328.6 448.6h0M1332.3 448.6h0M1350.8 448.6h0M1369.3 448.6h0M1023.3 451.9h0M1027 451.9h0M1030.7 451.9h0M1045.5 451.9h0M1108.4 451.9h0M1115.8 451.9h0M1119.5 451.9h0M1126.9 451.9h0M1145.4 451.9h0M1149.1 451.9h0M1160.2 451.9h0M1163.9 451.9h0M1167.6 451.9h0M1226.8 451.9h0M1230.5 451.9h0M1234.2 451.9h0M1315.6 451.9h0M1363.7 451.9h0M1367.4 451.9h0M1017.8 455.1h0M1021.5 455.1h0M1025.2 455.1h0M1028.9 455.1h0M1032.6 455.1h0M1043.7 455.1h0M1047.4 455.1h0M1106.6 455.1h0M1117.7 455.1h0M1121.4 455.1h0M1125.1 455.1h0M1147.3 455.1h0M1202.8 455.1h0M1221.3 455.1h0M1225 455.1h0M1228.7 455.1h0M1232.4 455.1h0M1236.1 455.1h0M1239.8 455.1h0M1287.9 455.1h0M1019.6 458.4h0M1023.3 458.4h0M1027 458.4h0M1030.7 458.4h0M1041.8 458.4h0M1115.8 458.4h0M1119.5 458.4h0M1123.2 458.4h0M1141.7 458.4h0M1145.4 458.4h0M1149.1 458.4h0M1219.4 458.4h0M1223.1 458.4h0M1226.8 458.4h0M1230.5 458.4h0M1241.6 458.4h0M1371.1 458.4h0M1025.2 461.6h0M1028.9 461.6h0M1099.2 461.6h0M1117.7 461.6h0M1121.4 461.6h0M1139.9 461.6h0M1143.6 461.6h0M1206.5 461.6h0M1210.2 461.6h0M1239.8 461.6h0M1243.5 461.6h0M1023.3 464.9h0M1041.8 464.9h0M1112.1 464.9h0M1119.5 464.9h0M1123.2 464.9h0M1138 464.9h0M1141.7 464.9h0M1145.4 464.9h0M1149.1 464.9h0M1197.2 464.9h0M1200.9 464.9h0M1204.6 464.9h0M1208.3 464.9h0M1212 464.9h0M1215.7 464.9h0M1223.1 464.9h0M1241.6 464.9h0M1245.3 464.9h0M1282.3 464.9h0M1334.1 464.9h0M1360 464.9h0M1021.5 468.2h0M1043.7 468.2h0M1051.1 468.2h0M1054.8 468.2h0M1110.3 468.2h0M1121.4 468.2h0M1139.9 468.2h0M1151 468.2h0M1154.7 468.2h0M1195.4 468.2h0M1199.1 468.2h0M1202.8 468.2h0M1206.5 468.2h0M1228.7 468.2h0M1232.4 468.2h0M1236.1 468.2h0M1350.8 468.2h0M1019.6 471.4h0M1104.7 471.4h0M1108.4 471.4h0M1112.1 471.4h0M1115.8 471.4h0M1119.5 471.4h0M1141.7 471.4h0M1193.5 471.4h0M1200.9 471.4h0M1208.3 471.4h0M1337.8 471.4h0M1341.5 471.4h0M1025.2 474.7h0M1099.2 474.7h0M1106.6 474.7h0M1110.3 474.7h0M1139.9 474.7h0M1284.2 474.7h0M1328.6 474.7h0M1038.1 477.9h0M1075.1 477.9h0M1078.8 477.9h0M1082.5 477.9h0M1104.7 477.9h0M1119.5 477.9h0M1130.6 477.9h0M1138 477.9h0M1160.2 477.9h0M1193.5 477.9h0M1197.2 477.9h0M1200.9 477.9h0M1234.2 477.9h0M1241.6 477.9h0M1245.3 477.9h0M1040 481.2h0M1084.4 481.2h0M1095.5 481.2h0M1099.2 481.2h0M1102.9 481.2h0M1121.4 481.2h0M1195.4 481.2h0M1199.1 481.2h0M1213.9 481.2h0M1217.6 481.2h0M1221.3 481.2h0M1225 481.2h0M1228.7 481.2h0M1232.4 481.2h0M1236.1 481.2h0M1239.8 481.2h0M1243.5 481.2h0M1247.2 481.2h0M1086.2 484.4h0M1093.6 484.4h0M1097.3 484.4h0M1119.5 484.4h0M1123.2 484.4h0M1156.5 484.4h0M1193.5 484.4h0M1204.6 484.4h0M1245.3 484.4h0M1256.4 484.4h0M1084.4 487.7h0M1121.4 487.7h0M1125.1 487.7h0M1136.2 487.7h0M1154.7 487.7h0M1191.7 487.7h0M1195.4 487.7h0M1228.7 487.7h0M1236.1 487.7h0M1239.8 487.7h0M1123.2 490.9h0M1126.9 490.9h0M1130.6 490.9h0M1134.3 490.9h0M1138 490.9h0M1219.4 490.9h0M1223.1 490.9h0M1237.9 490.9h0M1121.4 494.2h0M1125.1 494.2h0M1128.8 494.2h0M1136.2 494.2h0M1139.9 494.2h0M1191.7 494.2h0M1199.1 494.2h0M1202.8 494.2h0M1206.5 494.2h0M1217.6 494.2h0M1123.2 497.5h0M1126.9 497.5h0M1134.3 497.5h0M1138 497.5h0M1141.7 497.5h0M1152.8 497.5h0M1193.5 497.5h0M1208.3 497.5h0M1212 497.5h0M1136.2 500.7h0M1139.9 500.7h0M1143.6 500.7h0M1154.7 500.7h0M1188 500.7h0M1191.7 500.7h0M1195.4 500.7h0M1206.5 500.7h0M1210.2 500.7h0M1141.7 504h0M1145.4 504h0M1204.6 504h0M1208.3 504h0M1139.9 507.2h0M1143.6 507.2h0M1147.3 507.2h0M1202.8 507.2h0M1206.5 507.2h0M1141.7 510.5h0M1145.4 510.5h0M1149.1 510.5h0M1200.9 510.5h0M1219.4 510.5h0M1223.1 510.5h0M1147.3 513.7h0M1151 513.7h0M1217.6 513.7h0M1160.2 517h0M1163.9 517h0M1151 520.2h0M1158.4 520.2h0M1162.1 520.2h0M1176.9 520.2h0M1156.5 523.5h0M1160.2 523.5h0M1163.9 523.5h0M1167.6 523.5h0M1171.3 523.5h0M1175 523.5h0M1189.8 523.5h0M1154.7 526.8h0M1165.8 526.8h0M1169.5 526.8h0M1167.6 530h0"/>
<path stroke="#0000ff" d="M1169.5 266.3h0M1163.9 269.5h0M1167.6 269.5h0M1212 269.5h0M1215.7 269.5h0M1162.1 272.8h0M1213.9 272.8h0M1160.2 276h0M1215.7 276h0M1271.2 276h0M1273.1 279.3h0M1115.8 282.6h0M1130.6 282.6h0M1167.6 282.6h0M1208.3 282.6h0M1226.8 282.6h0M1274.9 282.6h0M1191.7 285.8h0M1228.7 285.8h0M1276.8 285.8h0M1291.6 285.8h0M1295.3 285.8h0M1302.7 285.8h0M1306.4 285.8h0M1112.1 289.1h0M1152.8 289.1h0M1160.2 289.1h0M1223.1 289.1h0M1274.9 289.1h0M1282.3 289.1h0M1293.4 289.1h0M1304.5 289.1h0M1308.2 289.1h0M1311.9 289.1h0M1110.3 292.3h0M1158.4 292.3h0M1184.3 292.3h0M1217.6 292.3h0M1276.8 292.3h0M1280.5 292.3h0M1284.2 292.3h0M1291.6 292.3h0M1295.3 292.3h0M1306.4 292.3h0M1156.5 295.6h0M1160.2 295.6h0M1234.2 295.6h0M1084.4 298.8h0M1143.6 298.8h0M1154.7 298.8h0M1158.4 298.8h0M1176.9 298.8h0M1236.1 298.8h0M1291.6 298.8h0M1295.3 298.8h0M1082.5 302.1h0M1086.2 302.1h0M1130.6 302.1h0M1156.5 302.1h0M1171.3 302.1h0M1237.9 302.1h0M1241.6 302.1h0M1297.1 302.1h0M1084.4 305.4h0M1151 305.4h0M1176.9 305.4h0M1239.8 305.4h0M1247.2 305.4h0M1280.5 305.4h0M1324.9 305.4h0M1086.2 308.6h0M1089.9 308.6h0M1115.8 308.6h0M1141.7 308.6h0M1149.1 308.6h0M1152.8 308.6h0M1156.5 308.6h0M1178.7 308.6h0M1200.9 308.6h0M1212 308.6h0M1241.6 308.6h0M1300.8 308.6h0M1326.7 308.6h0M1080.7 311.9h0M1084.4 311.9h0M1158.4 311.9h0M1210.2 311.9h0M1228.7 311.9h0M1269.4 311.9h0M1302.7 311.9h0M1078.8 315.1h0M1123.2 315.1h0M1134.3 315.1h0M1193.5 315.1h0M1212 315.1h0M1241.6 315.1h0M1245.3 315.1h0M1252.7 315.1h0M1304.5 315.1h0M1084.4 318.4h0M1121.4 318.4h0M1151 318.4h0M1154.7 318.4h0M1210.2 318.4h0M1243.5 318.4h0M1247.2 318.4h0M1250.9 318.4h0M1265.7 318.4h0M1269.4 318.4h0M1302.7 318.4h0M1306.4 318.4h0M1332.3 318.4h0M1052.9 321.6h0M1067.7 321.6h0M1134.3 321.6h0M1200.9 321.6h0M1204.6 321.6h0M1208.3 321.6h0M1237.9 321.6h0M1263.8 321.6h0M1278.6 321.6h0M1304.5 321.6h0M1308.2 321.6h0M1330.4 321.6h0M1334.1 321.6h0M1051.1 324.9h0M1065.9 324.9h0M1151 324.9h0M1206.5 324.9h0M1236.1 324.9h0M1254.6 324.9h0M1258.3 324.9h0M1269.4 324.9h0M1306.4 324.9h0M1310.1 324.9h0M1332.3 324.9h0M1336 324.9h0M1049.2 328.1h0M1064 328.1h0M1138 328.1h0M1186.1 328.1h0M1215.7 328.1h0M1219.4 328.1h0M1223.1 328.1h0M1241.6 328.1h0M1245.3 328.1h0M1249 328.1h0M1252.7 328.1h0M1256.4 328.1h0M1260.1 328.1h0M1308.2 328.1h0M1311.9 328.1h0M1334.1 328.1h0M1337.8 328.1h0M1073.3 331.4h0M1077 331.4h0M1184.3 331.4h0M1188 331.4h0M1210.2 331.4h0M1213.9 331.4h0M1217.6 331.4h0M1243.5 331.4h0M1247.2 331.4h0M1250.9 331.4h0M1258.3 331.4h0M1262 331.4h0M1280.5 331.4h0M1306.4 331.4h0M1310.1 331.4h0M1313.8 331.4h0M1336 331.4h0M1339.7 331.4h0M1049.2 334.7h0M1052.9 334.7h0M1056.6 334.7h0M1141.7 334.7h0M1178.7 334.7h0M1219.4 334.7h0M1241.6 334.7h0M1245.3 334.7h0M1249 334.7h0M1256.4 334.7h0M1267.5 334.7h0M1282.3 334.7h0M1289.7 334.7h0M1293.4 334.7h0M1304.5 334.7h0M1308.2 334.7h0M1311.9 334.7h0M1341.5 334.7h0M1036.3 337.9h0M1040 337.9h0M1051.1 337.9h0M1054.8 337.9h0M1062.2 337.9h0M1091.8 337.9h0M1106.6 337.9h0M1110.3 337.9h0M1114 337.9h0M1217.6 337.9h0M1247.2 337.9h0M1250.9 337.9h0M1258.3 337.9h0M1265.7 337.9h0M1269.4 337.9h0M1273.1 337.9h0M1276.8 337.9h0M1280.5 337.9h0M1291.6 337.9h0M1302.7 337.9h0M1306.4 337.9h0M1310.1 337.9h0M1343.4 337.9h0M1034.4 341.2h0M1045.5 341.2h0M1064 341.2h0M1075.1 341.2h0M1086.2 341.2h0M1101 341.2h0M1104.7 341.2h0M1115.8 341.2h0M1130.6 341.2h0M1219.4 341.2h0M1249 341.2h0M1252.7 341.2h0M1256.4 341.2h0M1260.1 341.2h0M1263.8 341.2h0M1278.6 341.2h0M1282.3 341.2h0M1286 341.2h0M1289.7 341.2h0M1337.8 341.2h0M1047.4 344.4h0M1054.8 344.4h0M1058.5 344.4h0M1062.2 344.4h0M1065.9 344.4h0M1073.3 344.4h0M1080.7 344.4h0M1084.4 344.4h0M1088.1 344.4h0M1102.9 344.4h0M1121.4 344.4h0M1125.1 344.4h0M1128.8 344.4h0M1132.5 344.4h0M1184.3 344.4h0M1188 344.4h0M1217.6 344.4h0M1247.2 344.4h0M1250.9 344.4h0M1254.6 344.4h0M1276.8 344.4h0M1280.5 344.4h0M1284.2 344.4h0M1287.9 344.4h0M1302.7 344.4h0M1336 344.4h0M1343.4 344.4h0M1347.1 344.4h0M1034.4 347.7h0M1045.5 347.7h0M1075.1 347.7h0M1078.8 347.7h0M1082.5 347.7h0M1086.2 347.7h0M1089.9 347.7h0M1119.5 347.7h0M1126.9 347.7h0M1130.6 347.7h0M1249 347.7h0M1252.7 347.7h0M1256.4 347.7h0M1260.1 347.7h0M1278.6 347.7h0M1282.3 347.7h0M1286 347.7h0M1289.7 347.7h0M1297.1 347.7h0M1300.8 347.7h0M1345.2 347.7h0M1348.9 347.7h0M1032.6 350.9h0M1036.3 350.9h0M1047.4 350.9h0M1051.1 350.9h0M1054.8 350.9h0M1073.3 350.9h0M1077 350.9h0M1117.7 350.9h0M1191.7 350.9h0M1236.1 350.9h0M1239.8 350.9h0M1243.5 350.9h0M1247.2 350.9h0M1276.8 350.9h0M1280.5 350.9h0M1287.9 350.9h0M1291.6 350.9h0M1295.3 350.9h0M1299 350.9h0M1302.7 350.9h0M1336 350.9h0M1339.7 350.9h0M1343.4 350.9h0M1347.1 350.9h0M1034.4 354.2h0M1038.1 354.2h0M1193.5 354.2h0M1278.6 354.2h0M1297.1 354.2h0M1300.8 354.2h0M1341.5 354.2h0M1345.2 354.2h0M1348.9 354.2h0M1032.6 357.4h0M1036.3 357.4h0M1040 357.4h0M1047.4 357.4h0M1054.8 357.4h0M1128.8 357.4h0M1173.2 357.4h0M1191.7 357.4h0M1239.8 357.4h0M1350.8 357.4h0M1034.4 360.7h0M1045.5 360.7h0M1049.2 360.7h0M1052.9 360.7h0M1101 360.7h0M1130.6 360.7h0M1182.4 360.7h0M1200.9 360.7h0M1014.1 364h0M1032.6 364h0M1043.7 364h0M1047.4 364h0M1206.5 364h0M1236.1 364h0M1287.9 364h0M1012.2 367.2h0M1019.6 367.2h0M1126.9 367.2h0M1167.6 367.2h0M1212 367.2h0M1234.2 367.2h0M1289.7 367.2h0M1360 367.2h0M1128.8 370.5h0M1232.4 370.5h0M1236.1 370.5h0M1012.2 373.7h0M1030.7 373.7h0M1038.1 373.7h0M1130.6 373.7h0M1200.9 373.7h0M1234.2 373.7h0M1352.6 373.7h0M1028.9 377h0M1032.6 377h0M1184.3 377h0M1236.1 377h0M1339.7 377h0M1343.4 377h0M1012.2 380.2h0M1034.4 380.2h0M1038.1 380.2h0M1112.1 380.2h0M1178.7 380.2h0M1237.9 380.2h0M1021.5 383.5h0M1025.2 383.5h0M1028.9 383.5h0M1032.6 383.5h0M1088.1 383.5h0M1106.6 383.5h0M1110.3 383.5h0M1114 383.5h0M1128.8 383.5h0M1321.2 383.5h0M1324.9 383.5h0M1358.2 383.5h0M1361.9 383.5h0M1019.6 386.8h0M1023.3 386.8h0M1027 386.8h0M1030.7 386.8h0M1034.4 386.8h0M1086.2 386.8h0M1089.9 386.8h0M1093.6 386.8h0M1097.3 386.8h0M1101 386.8h0M1104.7 386.8h0M1108.4 386.8h0M1112.1 386.8h0M1115.8 386.8h0M1163.9 386.8h0M1182.4 386.8h0M1189.8 386.8h0M1234.2 386.8h0M1237.9 386.8h0M1241.6 386.8h0M1256.4 386.8h0M1260.1 386.8h0M1315.6 386.8h0M1334.1 386.8h0M1356.3 386.8h0M1021.5 390h0M1025.2 390h0M1032.6 390h0M1036.3 390h0M1084.4 390h0M1091.8 390h0M1095.5 390h0M1106.6 390h0M1117.7 390h0M1136.2 390h0M1139.9 390h0M1151 390h0M1225 390h0M1228.7 390h0M1313.8 390h0M1317.5 390h0M1328.6 390h0M1332.3 390h0M997.4 393.3h0M1023.3 393.3h0M1027 393.3h0M1030.7 393.3h0M1034.4 393.3h0M1093.6 393.3h0M1104.7 393.3h0M1141.7 393.3h0M1149.1 393.3h0M1178.7 393.3h0M1208.3 393.3h0M1219.4 393.3h0M1223.1 393.3h0M1304.5 393.3h0M1311.9 393.3h0M1315.6 393.3h0M1319.3 393.3h0M1323 393.3h0M1326.7 393.3h0M1330.4 393.3h0M1352.6 393.3h0M1356.3 393.3h0M1036.3 396.5h0M1084.4 396.5h0M1091.8 396.5h0M1128.8 396.5h0M1132.5 396.5h0M1165.8 396.5h0M1221.3 396.5h0M1310.1 396.5h0M1313.8 396.5h0M1317.5 396.5h0M1321.2 396.5h0M1324.9 396.5h0M1328.6 396.5h0M1350.8 396.5h0M1086.2 399.8h0M1093.6 399.8h0M1119.5 399.8h0M1123.2 399.8h0M1126.9 399.8h0M1134.3 399.8h0M1138 399.8h0M1160.2 399.8h0M1167.6 399.8h0M1215.7 399.8h0M1219.4 399.8h0M1319.3 399.8h0M1323 399.8h0M1326.7 399.8h0M1330.4 399.8h0M1348.9 399.8h0M995.6 403h0M1028.9 403h0M1032.6 403h0M1036.3 403h0M1084.4 403h0M1088.1 403h0M1091.8 403h0M1110.3 403h0M1114 403h0M1117.7 403h0M1121.4 403h0M1132.5 403h0M1136.2 403h0M1217.6 403h0M1343.4 403h0M1019.6 406.3h0M1023.3 406.3h0M1027 406.3h0M1030.7 406.3h0M1034.4 406.3h0M1108.4 406.3h0M1112.1 406.3h0M1134.3 406.3h0M1160.2 406.3h0M1167.6 406.3h0M1219.4 406.3h0M1223.1 406.3h0M1226.8 406.3h0M1230.5 406.3h0M1234.2 406.3h0M1237.9 406.3h0M1241.6 406.3h0M1334.1 406.3h0M1010.4 409.5h0M1017.8 409.5h0M1025.2 409.5h0M1028.9 409.5h0M1036.3 409.5h0M1106.6 409.5h0M1110.3 409.5h0M1169.5 409.5h0M1236.1 409.5h0M1239.8 409.5h0M1247.2 409.5h0M1336 409.5h0M1369.3 409.5h0M1019.6 412.8h0M1023.3 412.8h0M1027 412.8h0M1030.7 412.8h0M1089.9 412.8h0M1108.4 412.8h0M1152.8 412.8h0M1167.6 412.8h0M1226.8 412.8h0M1234.2 412.8h0M1237.9 412.8h0M1025.2 416.1h0M1028.9 416.1h0M1032.6 416.1h0M1036.3 416.1h0M1084.4 416.1h0M1147.3 416.1h0M1206.5 416.1h0M1217.6 416.1h0M1225 416.1h0M1232.4 416.1h0M1236.1 416.1h0M1239.8 416.1h0M1324.9 416.1h0M1343.4 416.1h0M1082.5 419.3h0M1086.2 419.3h0M1145.4 419.3h0M1171.3 419.3h0M1178.7 419.3h0M1186.1 419.3h0M1204.6 419.3h0M1208.3 419.3h0M1223.1 419.3h0M1226.8 419.3h0M1323 419.3h0M1330.4 419.3h0M1337.8 419.3h0M1345.2 419.3h0M1348.9 419.3h0M1088.1 422.6h0M1151 422.6h0M1217.6 422.6h0M1221.3 422.6h0M1225 422.6h0M1324.9 422.6h0M1328.6 422.6h0M1012.2 425.8h0M1038.1 425.8h0M1101 425.8h0M1112.1 425.8h0M1149.1 425.8h0M1152.8 425.8h0M1193.5 425.8h0M1197.2 425.8h0M1326.7 425.8h0M1330.4 425.8h0M1371.1 425.8h0M1014.1 429.1h0M1028.9 429.1h0M1032.6 429.1h0M1036.3 429.1h0M1040 429.1h0M1084.4 429.1h0M1088.1 429.1h0M1191.7 429.1h0M1195.4 429.1h0M1206.5 429.1h0M1369.3 429.1h0M1023.3 432.3h0M1027 432.3h0M1030.7 432.3h0M1034.4 432.3h0M1038.1 432.3h0M1082.5 432.3h0M1193.5 432.3h0M1200.9 432.3h0M1337.8 432.3h0M1021.5 435.6h0M1028.9 435.6h0M1036.3 435.6h0M1040 435.6h0M1043.7 435.6h0M1084.4 435.6h0M1088.1 435.6h0M1139.9 435.6h0M1191.7 435.6h0M1195.4 435.6h0M1299 435.6h0M1336 435.6h0M1343.4 435.6h0M1347.1 435.6h0M1361.9 435.6h0M1365.6 435.6h0M1369.3 435.6h0M1019.6 438.8h0M1023.3 438.8h0M1027 438.8h0M1041.8 438.8h0M1086.2 438.8h0M1097.3 438.8h0M1115.8 438.8h0M1193.5 438.8h0M1271.2 438.8h0M1274.9 438.8h0M1304.5 438.8h0M1315.6 438.8h0M1334.1 438.8h0M1363.7 438.8h0M1367.4 438.8h0M1371.1 438.8h0M1017.8 442.1h0M1025.2 442.1h0M1028.9 442.1h0M1043.7 442.1h0M1047.4 442.1h0M1084.4 442.1h0M1091.8 442.1h0M1095.5 442.1h0M1114 442.1h0M1188 442.1h0M1313.8 442.1h0M1369.3 442.1h0M1027 445.4h0M1034.4 445.4h0M1038.1 445.4h0M1086.2 445.4h0M1089.9 445.4h0M1093.6 445.4h0M1104.7 445.4h0M1108.4 445.4h0M1115.8 445.4h0M1178.7 445.4h0M1263.8 445.4h0M1267.5 445.4h0M1300.8 445.4h0M1330.4 445.4h0M1356.3 445.4h0M1040 448.6h0M1047.4 448.6h0M1051.1 448.6h0M1084.4 448.6h0M1088.1 448.6h0M1132.5 448.6h0M1232.4 448.6h0M1258.3 448.6h0M1262 448.6h0M1265.7 448.6h0M1269.4 448.6h0M1299 448.6h0M1324.9 448.6h0M1336 448.6h0M1339.7 448.6h0M1343.4 448.6h0M1354.5 448.6h0M1358.2 448.6h0M1361.9 448.6h0M1365.6 448.6h0M1038.1 451.9h0M1041.8 451.9h0M1049.2 451.9h0M1052.9 451.9h0M1078.8 451.9h0M1082.5 451.9h0M1086.2 451.9h0M1112.1 451.9h0M1138 451.9h0M1171.3 451.9h0M1175 451.9h0M1223.1 451.9h0M1249 451.9h0M1252.7 451.9h0M1267.5 451.9h0M1297.1 451.9h0M1319.3 451.9h0M1323 451.9h0M1326.7 451.9h0M1330.4 451.9h0M1334.1 451.9h0M1345.2 451.9h0M1348.9 451.9h0M1356.3 451.9h0M1360 451.9h0M1036.3 455.1h0M1040 455.1h0M1051.1 455.1h0M1054.8 455.1h0M1058.5 455.1h0M1084.4 455.1h0M1091.8 455.1h0M1110.3 455.1h0M1114 455.1h0M1139.9 455.1h0M1158.4 455.1h0M1206.5 455.1h0M1210.2 455.1h0M1217.6 455.1h0M1247.2 455.1h0M1250.9 455.1h0M1034.4 458.4h0M1038.1 458.4h0M1045.5 458.4h0M1112.1 458.4h0M1126.9 458.4h0M1138 458.4h0M1200.9 458.4h0M1204.6 458.4h0M1208.3 458.4h0M1245.3 458.4h0M1249 458.4h0M1252.7 458.4h0M1300.8 458.4h0M1304.5 458.4h0M1032.6 461.6h0M1036.3 461.6h0M1040 461.6h0M1043.7 461.6h0M1084.4 461.6h0M1125.1 461.6h0M1136.2 461.6h0M1162.1 461.6h0M1199.1 461.6h0M1202.8 461.6h0M1247.2 461.6h0M1250.9 461.6h0M1280.5 461.6h0M1299 461.6h0M1027 464.9h0M1030.7 464.9h0M1034.4 464.9h0M1038.1 464.9h0M1045.5 464.9h0M1060.3 464.9h0M1078.8 464.9h0M1108.4 464.9h0M1115.8 464.9h0M1193.5 464.9h0M1249 464.9h0M1252.7 464.9h0M1308.2 464.9h0M1345.2 464.9h0M1348.9 464.9h0M1352.6 464.9h0M1356.3 464.9h0M1025.2 468.2h0M1102.9 468.2h0M1106.6 468.2h0M1114 468.2h0M1117.7 468.2h0M1136.2 468.2h0M1147.3 468.2h0M1191.7 468.2h0M1210.2 468.2h0M1213.9 468.2h0M1250.9 468.2h0M1254.6 468.2h0M1284.2 468.2h0M1339.7 468.2h0M1343.4 468.2h0M1347.1 468.2h0M1023.3 471.4h0M1045.5 471.4h0M1060.3 471.4h0M1067.7 471.4h0M1071.4 471.4h0M1101 471.4h0M1134.3 471.4h0M1138 471.4h0M1145.4 471.4h0M1149.1 471.4h0M1152.8 471.4h0M1156.5 471.4h0M1189.8 471.4h0M1204.6 471.4h0M1234.2 471.4h0M1252.7 471.4h0M1326.7 471.4h0M1028.9 474.7h0M1058.5 474.7h0M1069.6 474.7h0M1073.3 474.7h0M1077 474.7h0M1080.7 474.7h0M1084.4 474.7h0M1102.9 474.7h0M1114 474.7h0M1117.7 474.7h0M1121.4 474.7h0M1136.2 474.7h0M1143.6 474.7h0M1147.3 474.7h0M1151 474.7h0M1154.7 474.7h0M1158.4 474.7h0M1191.7 474.7h0M1202.8 474.7h0M1236.1 474.7h0M1250.9 474.7h0M1324.9 474.7h0M1030.7 477.9h0M1086.2 477.9h0M1093.6 477.9h0M1097.3 477.9h0M1101 477.9h0M1123.2 477.9h0M1141.7 477.9h0M1145.4 477.9h0M1189.8 477.9h0M1212 477.9h0M1230.5 477.9h0M1237.9 477.9h0M1249 477.9h0M1252.7 477.9h0M1315.6 477.9h0M1080.7 481.2h0M1088.1 481.2h0M1091.8 481.2h0M1125.1 481.2h0M1136.2 481.2h0M1139.9 481.2h0M1143.6 481.2h0M1158.4 481.2h0M1188 481.2h0M1191.7 481.2h0M1250.9 481.2h0M1082.5 484.4h0M1101 484.4h0M1134.3 484.4h0M1138 484.4h0M1141.7 484.4h0M1145.4 484.4h0M1186.1 484.4h0M1189.8 484.4h0M1200.9 484.4h0M1249 484.4h0M1080.7 487.7h0M1132.5 487.7h0M1139.9 487.7h0M1143.6 487.7h0M1147.3 487.7h0M1188 487.7h0M1199.1 487.7h0M1202.8 487.7h0M1141.7 490.9h0M1145.4 490.9h0M1186.1 490.9h0M1226.8 490.9h0M1230.5 490.9h0M1132.5 494.2h0M1143.6 494.2h0M1221.3 494.2h0M1186.1 497.5h0M1213.9 500.7h0M1217.6 500.7h0M1149.1 504h0M1197.2 504h0M1212 504h0M1226.8 504h0M1230.5 504h0M1234.2 504h0M1151 507.2h0M1154.7 507.2h0M1162.1 507.2h0M1195.4 507.2h0M1199.1 507.2h0M1210.2 507.2h0M1217.6 507.2h0M1221.3 507.2h0M1225 507.2h0M1228.7 507.2h0M1232.4 507.2h0M1152.8 510.5h0M1156.5 510.5h0M1193.5 510.5h0M1204.6 510.5h0M1208.3 510.5h0M1215.7 510.5h0M1158.4 513.7h0M1162.1 513.7h0M1165.8 513.7h0M1169.5 513.7h0M1195.4 513.7h0M1199.1 513.7h0M1202.8 513.7h0M1206.5 513.7h0M1213.9 513.7h0M1167.6 517h0M1171.3 517h0M1197.2 517h0M1200.9 517h0M1208.3 517h0M1169.5 520.2h0M1173.2 520.2h0M1188 520.2h0M1191.7 520.2h0M1195.4 520.2h0M1199.1 520.2h0M1193.5 523.5h0M1163.9 530h0"/>
<path stroke="#002aff" d="M1225 272.8h0M1163.9 276h0M1167.6 276h0M1223.1 276h0M1263.8 276h0M1262 279.3h0M1126.9 282.6h0M1163.9 282.6h0M1189.8 282.6h0M1114 285.8h0M1188 285.8h0M1273.1 285.8h0M1299 285.8h0M1178.7 289.1h0M1297.1 289.1h0M1176.9 292.3h0M1178.7 295.6h0M1297.1 295.6h0M1169.5 298.8h0M1287.9 298.8h0M1139.9 305.4h0M1228.7 305.4h0M1236.1 305.4h0M1284.2 305.4h0M1215.7 308.6h0M1226.8 308.6h0M1213.9 311.9h0M1239.8 311.9h0M1324.9 311.9h0M1138 315.1h0M1141.7 315.1h0M1149.1 315.1h0M1156.5 315.1h0M1271.2 315.1h0M1326.7 315.1h0M1139.9 318.4h0M1213.9 318.4h0M1239.8 318.4h0M1328.6 318.4h0M1141.7 321.6h0M1234.2 321.6h0M1267.5 321.6h0M1058.5 324.9h0M1062.2 324.9h0M1210.2 324.9h0M1228.7 324.9h0M1232.4 324.9h0M1315.6 328.1h0M1330.4 328.1h0M1051.1 331.4h0M1054.8 331.4h0M1317.5 331.4h0M1332.3 331.4h0M1182.4 334.7h0M1215.7 334.7h0M1315.6 334.7h0M1337.8 334.7h0M1128.8 337.9h0M1180.6 337.9h0M1184.3 337.9h0M1313.8 337.9h0M1336 337.9h0M1339.7 337.9h0M1038.1 341.2h0M1041.8 341.2h0M1108.4 341.2h0M1182.4 341.2h0M1186.1 341.2h0M1200.9 341.2h0M1204.6 341.2h0M1036.3 344.4h0M1043.7 344.4h0M1114 344.4h0M1117.7 344.4h0M1306.4 344.4h0M1310.1 344.4h0M1038.1 347.7h0M1041.8 347.7h0M1064 347.7h0M1067.7 347.7h0M1123.2 347.7h0M1304.5 347.7h0M1308.2 347.7h0M1080.7 350.9h0M1084.4 350.9h0M1121.4 350.9h0M1125.1 350.9h0M1250.9 350.9h0M1254.6 350.9h0M1258.3 350.9h0M1262 350.9h0M1265.7 350.9h0M1269.4 350.9h0M1284.2 350.9h0M1306.4 350.9h0M1075.1 354.2h0M1119.5 354.2h0M1241.6 354.2h0M1282.3 354.2h0M1286 354.2h0M1289.7 354.2h0M1293.4 354.2h0M1337.8 354.2h0M1058.5 357.4h0M1062.2 357.4h0M1287.9 357.4h0M1291.6 357.4h0M1295.3 357.4h0M1299 357.4h0M1056.6 360.7h0M1126.9 360.7h0M1289.7 360.7h0M1293.4 360.7h0M1297.1 360.7h0M1323 360.7h0M1326.7 360.7h0M1330.4 360.7h0M1036.3 364h0M1054.8 364h0M1295.3 364h0M1299 364h0M1324.9 364h0M1328.6 364h0M1332.3 364h0M1297.1 367.2h0M1323 367.2h0M1334.1 367.2h0M1337.8 367.2h0M1036.3 370.5h0M1295.3 370.5h0M1343.4 370.5h0M1347.1 370.5h0M1350.8 370.5h0M1293.4 373.7h0M1323 373.7h0M1337.8 373.7h0M1345.2 373.7h0M1014.1 377h0M1036.3 377h0M1078.8 380.2h0M1115.8 380.2h0M1241.6 380.2h0M1319.3 380.2h0M1323 380.2h0M1337.8 380.2h0M1341.5 380.2h0M1036.3 383.5h0M1077 383.5h0M1084.4 383.5h0M1091.8 383.5h0M1095.5 383.5h0M1102.9 383.5h0M1243.5 383.5h0M1328.6 383.5h0M1038.1 386.8h0M1078.8 386.8h0M1082.5 386.8h0M1186.1 386.8h0M1330.4 386.8h0M1028.9 390h0M1040 390h0M1080.7 390h0M1125.1 390h0M1128.8 390h0M1132.5 390h0M1176.9 390h0M1180.6 390h0M1184.3 390h0M1250.9 390h0M1038.1 393.3h0M1078.8 393.3h0M1082.5 393.3h0M1130.6 393.3h0M1167.6 393.3h0M1175 393.3h0M1226.8 393.3h0M1241.6 393.3h0M1249 393.3h0M1252.7 393.3h0M1080.7 396.5h0M1121.4 396.5h0M1125.1 396.5h0M1247.2 396.5h0M1038.1 399.8h0M1082.5 399.8h0M1089.9 399.8h0M1311.9 399.8h0M1080.7 403h0M1095.5 403h0M1321.2 403h0M1324.9 403h0M1328.6 403h0M1082.5 406.3h0M1086.2 406.3h0M1249 406.3h0M1252.7 406.3h0M1319.3 406.3h0M1326.7 406.3h0M1330.4 406.3h0M1014.1 409.5h0M1250.9 409.5h0M1324.9 409.5h0M1328.6 409.5h0M1332.3 409.5h0M1038.1 412.8h0M1149.1 412.8h0M1319.3 412.8h0M1323 412.8h0M1348.9 412.8h0M1228.7 416.1h0M1321.2 416.1h0M1038.1 419.3h0M1126.9 419.3h0M1237.9 419.3h0M1241.6 419.3h0M1319.3 419.3h0M1040 422.6h0M1086.2 425.8h0M1219.4 425.8h0M1223.1 425.8h0M1323 425.8h0M1114 429.1h0M1210.2 429.1h0M1213.9 429.1h0M1328.6 429.1h0M1041.8 432.3h0M1115.8 432.3h0M1274.9 432.3h0M1334.1 432.3h0M1047.4 435.6h0M1051.1 435.6h0M1054.8 435.6h0M1273.1 435.6h0M1276.8 435.6h0M1291.6 435.6h0M1310.1 435.6h0M1313.8 435.6h0M1317.5 435.6h0M1332.3 435.6h0M1278.6 438.8h0M1297.1 438.8h0M1300.8 438.8h0M1311.9 438.8h0M1191.7 442.1h0M1250.9 442.1h0M1276.8 442.1h0M1299 442.1h0M1302.7 442.1h0M1306.4 442.1h0M1310.1 442.1h0M1332.3 442.1h0M1078.8 445.4h0M1097.3 445.4h0M1101 445.4h0M1226.8 445.4h0M1230.5 445.4h0M1234.2 445.4h0M1252.7 445.4h0M1256.4 445.4h0M1260.1 445.4h0M1282.3 445.4h0M1286 445.4h0M1297.1 445.4h0M1304.5 445.4h0M1308.2 445.4h0M1311.9 445.4h0M1054.8 448.6h0M1058.5 448.6h0M1077 448.6h0M1080.7 448.6h0M1110.3 448.6h0M1136.2 448.6h0M1176.9 448.6h0M1225 448.6h0M1250.9 448.6h0M1254.6 448.6h0M1284.2 448.6h0M1287.9 448.6h0M1295.3 448.6h0M1321.2 448.6h0M1056.6 451.9h0M1130.6 451.9h0M1215.7 451.9h0M1219.4 451.9h0M1256.4 451.9h0M1260.1 451.9h0M1263.8 451.9h0M1271.2 451.9h0M1293.4 451.9h0M1300.8 451.9h0M1337.8 451.9h0M1341.5 451.9h0M1062.2 455.1h0M1073.3 455.1h0M1080.7 455.1h0M1128.8 455.1h0M1132.5 455.1h0M1254.6 455.1h0M1258.3 455.1h0M1262 455.1h0M1265.7 455.1h0M1324.9 455.1h0M1328.6 455.1h0M1332.3 455.1h0M1336 455.1h0M1339.7 455.1h0M1343.4 455.1h0M1347.1 455.1h0M1049.2 458.4h0M1052.9 458.4h0M1056.6 458.4h0M1060.3 458.4h0M1071.4 458.4h0M1075.1 458.4h0M1078.8 458.4h0M1082.5 458.4h0M1163.9 458.4h0M1167.6 458.4h0M1171.3 458.4h0M1260.1 458.4h0M1297.1 458.4h0M1330.4 458.4h0M1337.8 458.4h0M1341.5 458.4h0M1345.2 458.4h0M1348.9 458.4h0M1047.4 461.6h0M1073.3 461.6h0M1077 461.6h0M1165.8 461.6h0M1191.7 461.6h0M1195.4 461.6h0M1258.3 461.6h0M1291.6 461.6h0M1295.3 461.6h0M1313.8 461.6h0M1339.7 461.6h0M1343.4 461.6h0M1347.1 461.6h0M1350.8 461.6h0M1354.5 461.6h0M1075.1 464.9h0M1126.9 464.9h0M1134.3 464.9h0M1163.9 464.9h0M1167.6 464.9h0M1189.8 464.9h0M1256.4 464.9h0M1278.6 464.9h0M1289.7 464.9h0M1297.1 464.9h0M1311.9 464.9h0M1341.5 464.9h0M1047.4 468.2h0M1058.5 468.2h0M1062.2 468.2h0M1065.9 468.2h0M1073.3 468.2h0M1099.2 468.2h0M1125.1 468.2h0M1128.8 468.2h0M1132.5 468.2h0M1184.3 468.2h0M1188 468.2h0M1280.5 468.2h0M1287.9 468.2h0M1336 468.2h0M1027 471.4h0M1041.8 471.4h0M1049.2 471.4h0M1056.6 471.4h0M1064 471.4h0M1075.1 471.4h0M1097.3 471.4h0M1123.2 471.4h0M1182.4 471.4h0M1186.1 471.4h0M1223.1 471.4h0M1226.8 471.4h0M1230.5 471.4h0M1282.3 471.4h0M1330.4 471.4h0M1032.6 474.7h0M1180.6 474.7h0M1228.7 474.7h0M1232.4 474.7h0M1254.6 474.7h0M1034.4 477.9h0M1071.4 477.9h0M1134.3 477.9h0M1149.1 477.9h0M1152.8 477.9h0M1156.5 477.9h0M1182.4 477.9h0M1186.1 477.9h0M1215.7 477.9h0M1219.4 477.9h0M1223.1 477.9h0M1226.8 477.9h0M1077 481.2h0M1128.8 481.2h0M1132.5 481.2h0M1184.3 481.2h0M1254.6 481.2h0M1306.4 481.2h0M1149.1 484.4h0M1252.7 484.4h0M1077 487.7h0M1184.3 487.7h0M1247.2 487.7h0M1245.3 490.9h0M1184.3 494.2h0M1225 494.2h0M1223.1 497.5h0M1221.3 500.7h0M1225 500.7h0M1228.7 500.7h0M1232.4 500.7h0M1236.1 500.7h0M1239.8 500.7h0M1247.2 500.7h0M1156.5 504h0M1215.7 504h0M1219.4 504h0M1223.1 504h0M1237.9 504h0M1158.4 507.2h0M1213.9 507.2h0M1167.6 510.5h0M1212 510.5h0M1210.2 513.7h0M1175 517h0M1193.5 517h0M1204.6 517h0"/>
<path stroke="#0055ff" d="M1217.6 272.8h0M1221.3 272.8h0M1219.4 276h0M1162.1 279.3h0M1269.4 279.3h0M1123.2 282.6h0M1193.5 282.6h0M1271.2 282.6h0M1125.1 285.8h0M1184.3 285.8h0M1262 285.8h0M1115.8 289.1h0M1119.5 289.1h0M1226.8 289.1h0M1263.8 289.1h0M1300.8 289.1h0M1180.6 292.3h0M1221.3 292.3h0M1299 292.3h0M1175 295.6h0M1274.9 295.6h0M1278.6 295.6h0M1304.5 295.6h0M1173.2 298.8h0M1217.6 298.8h0M1149.1 302.1h0M1234.2 302.1h0M1286 302.1h0M1299 305.4h0M1138 308.6h0M1237.9 308.6h0M1245.3 308.6h0M1252.7 308.6h0M1323 308.6h0M1136.2 311.9h0M1139.9 311.9h0M1236.1 311.9h0M1306.4 311.9h0M1215.7 315.1h0M1237.9 315.1h0M1256.4 315.1h0M1267.5 315.1h0M1308.2 315.1h0M1065.9 318.4h0M1088.1 318.4h0M1138 321.6h0M1212 321.6h0M1054.8 324.9h0M1213.9 324.9h0M1273.1 324.9h0M1276.8 324.9h0M1313.8 324.9h0M1052.9 328.1h0M1126.9 328.1h0M1130.6 334.7h0M1212 334.7h0M1317.5 337.9h0M1315.6 341.2h0M1334.1 341.2h0M1040 344.4h0M1313.8 344.4h0M1317.5 344.4h0M1115.8 347.7h0M1062.2 350.9h0M1065.9 350.9h0M1091.8 350.9h0M1064 354.2h0M1115.8 354.2h0M1245.3 354.2h0M1249 354.2h0M1260.1 354.2h0M1271.2 354.2h0M1304.5 354.2h0M1065.9 357.4h0M1284.2 357.4h0M1324.9 357.4h0M1343.4 357.4h0M1347.1 357.4h0M1060.3 360.7h0M1064 360.7h0M1082.5 360.7h0M1286 360.7h0M1300.8 360.7h0M1058.5 364h0M1125.1 364h0M1239.8 364h0M1321.2 364h0M1336 364h0M1045.5 367.2h0M1049.2 367.2h0M1237.9 367.2h0M1300.8 367.2h0M1330.4 367.2h0M1345.2 367.2h0M1032.6 370.5h0M1040 370.5h0M1043.7 370.5h0M1080.7 370.5h0M1291.6 370.5h0M1299 370.5h0M1321.2 370.5h0M1336 370.5h0M1034.4 373.7h0M1078.8 373.7h0M1237.9 373.7h0M1289.7 373.7h0M1297.1 373.7h0M1319.3 373.7h0M1040 377h0M1239.8 377h0M1291.6 377h0M1321.2 377h0M1336 377h0M1075.1 380.2h0M1086.2 380.2h0M1104.7 380.2h0M1119.5 380.2h0M1289.7 380.2h0M1293.4 380.2h0M1043.7 383.5h0M1073.3 383.5h0M1099.2 383.5h0M1117.7 383.5h0M1332.3 383.5h0M1336 383.5h0M1354.5 383.5h0M1041.8 386.8h0M1075.1 386.8h0M1245.3 386.8h0M1289.7 386.8h0M1352.6 386.8h0M1232.4 390h0M1239.8 390h0M1243.5 390h0M1284.2 390h0M1310.1 390h0M1108.4 393.3h0M1126.9 393.3h0M1245.3 393.3h0M1308.2 393.3h0M1040 396.5h0M1225 396.5h0M1243.5 396.5h0M1078.8 399.8h0M1115.8 399.8h0M1241.6 399.8h0M1308.2 399.8h0M1077 403h0M1254.6 403h0M1265.7 403h0M1038.1 406.3h0M1104.7 406.3h0M1256.4 406.3h0M1315.6 406.3h0M1102.9 409.5h0M1254.6 409.5h0M1317.5 409.5h0M1086.2 412.8h0M1134.3 412.8h0M1138 412.8h0M1145.4 412.8h0M1249 412.8h0M1040 416.1h0M1347.1 416.1h0M1350.8 416.1h0M1077 422.6h0M1236.1 422.6h0M1041.8 425.8h0M1054.8 429.1h0M1058.5 429.1h0M1080.7 429.1h0M1217.6 429.1h0M1045.5 432.3h0M1049.2 432.3h0M1052.9 432.3h0M1056.6 432.3h0M1060.3 432.3h0M1293.4 432.3h0M1308.2 432.3h0M1311.9 432.3h0M1315.6 432.3h0M1058.5 435.6h0M1080.7 435.6h0M1206.5 435.6h0M1280.5 435.6h0M1284.2 435.6h0M1287.9 435.6h0M1056.6 438.8h0M1060.3 438.8h0M1204.6 438.8h0M1293.4 438.8h0M1319.3 438.8h0M1058.5 442.1h0M1199.1 442.1h0M1232.4 442.1h0M1254.6 442.1h0M1262 442.1h0M1060.3 445.4h0M1278.6 445.4h0M1326.7 445.4h0M1091.8 448.6h0M1060.3 451.9h0M1071.4 451.9h0M1089.9 451.9h0M1134.3 451.9h0M1212 451.9h0M1289.7 451.9h0M1136.2 455.1h0M1269.4 455.1h0M1064 458.4h0M1067.7 458.4h0M1086.2 458.4h0M1093.6 458.4h0M1130.6 458.4h0M1134.3 458.4h0M1175 458.4h0M1282.3 458.4h0M1315.6 458.4h0M1319.3 458.4h0M1326.7 458.4h0M1058.5 461.6h0M1062.2 461.6h0M1069.6 461.6h0M1128.8 461.6h0M1132.5 461.6h0M1169.5 461.6h0M1317.5 461.6h0M1321.2 461.6h0M1324.9 461.6h0M1328.6 461.6h0M1336 461.6h0M1049.2 464.9h0M1056.6 464.9h0M1064 464.9h0M1071.4 464.9h0M1082.5 464.9h0M1101 464.9h0M1104.7 464.9h0M1130.6 464.9h0M1186.1 464.9h0M1260.1 464.9h0M1293.4 464.9h0M1337.8 464.9h0M1069.6 468.2h0M1077 468.2h0M1180.6 468.2h0M1258.3 468.2h0M1212 471.4h0M1215.7 471.4h0M1256.4 471.4h0M1323 471.4h0M1054.8 474.7h0M1095.5 474.7h0M1125.1 474.7h0M1176.9 474.7h0M1221.3 474.7h0M1225 474.7h0M1067.7 477.9h0M1126.9 477.9h0M1178.7 477.9h0M1311.9 477.9h0M1154.7 481.2h0M1180.6 481.2h0M1078.8 484.4h0M1182.4 484.4h0M1073.3 487.7h0M1151 487.7h0M1250.9 487.7h0M1234.2 490.9h0M1249 490.9h0M1147.3 494.2h0M1228.7 494.2h0M1232.4 494.2h0M1243.5 494.2h0M1182.4 497.5h0M1226.8 497.5h0M1237.9 497.5h0M1249 497.5h0M1252.7 497.5h0M1180.6 500.7h0M1184.3 500.7h0M1243.5 500.7h0M1160.2 504h0M1163.9 504h0M1178.7 504h0M1193.5 504h0M1165.8 507.2h0M1173.2 507.2h0M1191.7 507.2h0M1191.7 513.7h0M1178.7 517h0"/>
<path stroke="#0080ff" d="M1165.8 279.3h0M1265.7 279.3h0M1119.5 282.6h0M1197.2 282.6h0M1260.1 282.6h0M1267.5 282.6h0M1182.4 289.1h0M1271.2 289.1h0M1302.7 292.3h0M1219.4 295.6h0M1286 295.6h0M1300.8 295.6h0M1276.8 298.8h0M1299 298.8h0M1306.4 298.8h0M1310.1 298.8h0M1145.4 302.1h0M1147.3 305.4h0M1217.6 305.4h0M1243.5 305.4h0M1230.5 308.6h0M1234.2 308.6h0M1249 308.6h0M1256.4 308.6h0M1151 311.9h0M1225 311.9h0M1232.4 311.9h0M1152.8 315.1h0M1226.8 315.1h0M1062.2 318.4h0M1236.1 318.4h0M1056.6 321.6h0M1064 321.6h0M1215.7 321.6h0M1271.2 321.6h0M1274.9 321.6h0M1311.9 321.6h0M1139.9 324.9h0M1225 324.9h0M1132.5 331.4h0M1319.3 334.7h0M1319.3 341.2h0M1311.9 347.7h0M1088.1 350.9h0M1310.1 350.9h0M1067.7 354.2h0M1071.4 354.2h0M1252.7 354.2h0M1256.4 354.2h0M1263.8 354.2h0M1267.5 354.2h0M1308.2 354.2h0M1330.4 354.2h0M1334.1 354.2h0M1080.7 357.4h0M1125.1 357.4h0M1254.6 357.4h0M1258.3 357.4h0M1280.5 357.4h0M1321.2 357.4h0M1328.6 357.4h0M1339.7 357.4h0M1086.2 360.7h0M1319.3 360.7h0M1062.2 364h0M1084.4 364h0M1302.7 364h0M1015.9 367.2h0M1034.4 367.2h0M1056.6 367.2h0M1108.4 367.2h0M1115.8 367.2h0M1123.2 367.2h0M1241.6 367.2h0M1260.1 367.2h0M1047.4 370.5h0M1084.4 370.5h0M1239.8 370.5h0M1287.9 370.5h0M1332.3 370.5h0M1041.8 373.7h0M1082.5 373.7h0M1334.1 373.7h0M1348.9 373.7h0M1073.3 377h0M1077 377h0M1088.1 377h0M1287.9 377h0M1041.8 380.2h0M1067.7 380.2h0M1071.4 380.2h0M1089.9 380.2h0M1093.6 380.2h0M1108.4 380.2h0M1334.1 380.2h0M1069.6 383.5h0M1313.8 383.5h0M1045.5 386.8h0M1071.4 386.8h0M1119.5 386.8h0M1311.9 386.8h0M1348.9 386.8h0M1236.1 390h0M1247.2 390h0M1287.9 390h0M1306.4 390h0M1041.8 393.3h0M1075.1 393.3h0M1230.5 393.3h0M1077 396.5h0M1299 396.5h0M1223.1 399.8h0M1256.4 399.8h0M1267.5 399.8h0M1271.2 399.8h0M1040 403h0M1221.3 403h0M1258.3 403h0M1306.4 403h0M1260.1 406.3h0M1258.3 409.5h0M1252.7 412.8h0M1043.7 416.1h0M1073.3 416.1h0M1250.9 416.1h0M1254.6 416.1h0M1317.5 416.1h0M1239.8 422.6h0M1243.5 422.6h0M1280.5 422.6h0M1310.1 422.6h0M1321.2 422.6h0M1056.6 425.8h0M1234.2 425.8h0M1282.3 425.8h0M1043.7 429.1h0M1047.4 429.1h0M1051.1 429.1h0M1062.2 429.1h0M1276.8 429.1h0M1291.6 429.1h0M1295.3 429.1h0M1212 432.3h0M1278.6 432.3h0M1289.7 432.3h0M1210.2 435.6h0M1295.3 435.6h0M1328.6 435.6h0M1241.6 438.8h0M1245.3 438.8h0M1249 438.8h0M1252.7 438.8h0M1263.8 438.8h0M1282.3 438.8h0M1202.8 442.1h0M1228.7 442.1h0M1258.3 442.1h0M1223.1 445.4h0M1062.2 448.6h0M1073.3 448.6h0M1217.6 448.6h0M1221.3 448.6h0M1273.1 448.6h0M1276.8 448.6h0M1280.5 448.6h0M1274.9 451.9h0M1286 451.9h0M1069.6 455.1h0M1291.6 455.1h0M1299 455.1h0M1089.9 458.4h0M1278.6 458.4h0M1289.7 458.4h0M1293.4 458.4h0M1051.1 461.6h0M1054.8 461.6h0M1065.9 461.6h0M1106.6 461.6h0M1276.8 461.6h0M1067.7 464.9h0M1300.8 464.9h0M1330.4 464.9h0M1165.8 468.2h0M1169.5 468.2h0M1291.6 468.2h0M1052.9 471.4h0M1078.8 471.4h0M1082.5 471.4h0M1093.6 471.4h0M1126.9 471.4h0M1130.6 471.4h0M1036.3 474.7h0M1088.1 474.7h0M1132.5 474.7h0M1173.2 474.7h0M1064 477.9h0M1089.9 477.9h0M1256.4 477.9h0M1304.5 477.9h0M1308.2 477.9h0M1073.3 481.2h0M1258.3 481.2h0M1302.7 481.2h0M1075.1 484.4h0M1254.6 487.7h0M1149.1 490.9h0M1182.4 490.9h0M1239.8 494.2h0M1247.2 494.2h0M1230.5 497.5h0M1234.2 497.5h0M1241.6 497.5h0M1245.3 497.5h0M1256.4 497.5h0M1182.4 504h0M1189.8 504h0M1169.5 507.2h0M1176.9 507.2h0M1178.7 510.5h0M1182.4 510.5h0M1189.8 510.5h0M1173.2 513.7h0M1180.6 513.7h0M1189.8 517h0"/>
<path stroke="#00aaff" d="M1263.8 282.6h0M1265.7 285.8h0M1269.4 285.8h0M1223.1 295.6h0M1282.3 295.6h0M1315.6 295.6h0M1221.3 298.8h0M1225 298.8h0M1228.7 298.8h0M1219.4 302.1h0M1226.8 302.1h0M1300.8 302.1h0M1232.4 305.4h0M1321.2 305.4h0M1263.8 308.6h0M1304.5 308.6h0M1217.6 311.9h0M1082.5 315.1h0M1230.5 315.1h0M1234.2 315.1h0M1217.6 318.4h0M1060.3 321.6h0M1221.3 324.9h0M1134.3 328.1h0M1128.8 331.4h0M1328.6 331.4h0M1321.2 337.9h0M1323 341.2h0M1321.2 344.4h0M1315.6 347.7h0M1319.3 347.7h0M1323 347.7h0M1095.5 350.9h0M1114 350.9h0M1082.5 354.2h0M1112.1 354.2h0M1323 354.2h0M1084.4 357.4h0M1099.2 357.4h0M1114 357.4h0M1121.4 357.4h0M1247.2 357.4h0M1310.1 357.4h0M1317.5 357.4h0M1336 357.4h0M1115.8 360.7h0M1123.2 360.7h0M1252.7 360.7h0M1282.3 360.7h0M1311.9 360.7h0M1334.1 360.7h0M1341.5 360.7h0M1345.2 360.7h0M1102.9 364h0M1114 364h0M1117.7 364h0M1284.2 364h0M1306.4 364h0M1060.3 367.2h0M1075.1 367.2h0M1078.8 367.2h0M1086.2 367.2h0M1112.1 367.2h0M1245.3 367.2h0M1249 367.2h0M1263.8 367.2h0M1267.5 367.2h0M1286 367.2h0M1304.5 367.2h0M1014.1 370.5h0M1017.8 370.5h0M1051.1 370.5h0M1054.8 370.5h0M1062.2 370.5h0M1073.3 370.5h0M1088.1 370.5h0M1106.6 370.5h0M1110.3 370.5h0M1114 370.5h0M1258.3 370.5h0M1262 370.5h0M1302.7 370.5h0M1015.9 373.7h0M1045.5 373.7h0M1060.3 373.7h0M1064 373.7h0M1067.7 373.7h0M1071.4 373.7h0M1086.2 373.7h0M1089.9 373.7h0M1108.4 373.7h0M1112.1 373.7h0M1119.5 373.7h0M1300.8 373.7h0M1326.7 373.7h0M1065.9 377h0M1106.6 377h0M1121.4 377h0M1125.1 377h0M1258.3 377h0M1262 377h0M1265.7 377h0M1299 377h0M1317.5 377h0M1350.8 377h0M1045.5 380.2h0M1097.3 380.2h0M1101 380.2h0M1260.1 380.2h0M1263.8 380.2h0M1297.1 380.2h0M1315.6 380.2h0M1352.6 380.2h0M1047.4 383.5h0M1247.2 383.5h0M1250.9 383.5h0M1126.9 386.8h0M1249 386.8h0M1252.7 386.8h0M1263.8 386.8h0M1286 386.8h0M1293.4 386.8h0M1073.3 390h0M1121.4 390h0M1291.6 390h0M1299 390h0M1302.7 390h0M1045.5 393.3h0M1112.1 393.3h0M1234.2 393.3h0M1237.9 393.3h0M1278.6 393.3h0M1289.7 393.3h0M1293.4 393.3h0M1297.1 393.3h0M1300.8 393.3h0M1258.3 396.5h0M1262 396.5h0M1273.1 396.5h0M1302.7 396.5h0M1108.4 399.8h0M1260.1 399.8h0M1300.8 399.8h0M1069.6 403h0M1073.3 403h0M1225 403h0M1228.7 403h0M1232.4 403h0M1236.1 403h0M1269.4 403h0M1078.8 406.3h0M1089.9 406.3h0M1263.8 406.3h0M1311.9 406.3h0M1040 409.5h0M1084.4 409.5h0M1313.8 409.5h0M1041.8 412.8h0M1256.4 412.8h0M1315.6 412.8h0M1077 416.1h0M1045.5 419.3h0M1043.7 422.6h0M1047.4 422.6h0M1051.1 422.6h0M1054.8 422.6h0M1276.8 422.6h0M1284.2 422.6h0M1306.4 422.6h0M1045.5 425.8h0M1060.3 425.8h0M1278.6 425.8h0M1286 425.8h0M1315.6 425.8h0M1319.3 425.8h0M1221.3 429.1h0M1273.1 429.1h0M1280.5 429.1h0M1078.8 432.3h0M1215.7 432.3h0M1271.2 432.3h0M1062.2 435.6h0M1250.9 435.6h0M1254.6 435.6h0M1265.7 435.6h0M1078.8 438.8h0M1256.4 438.8h0M1289.7 438.8h0M1323 438.8h0M1330.4 438.8h0M1077 442.1h0M1273.1 442.1h0M1280.5 442.1h0M1324.9 442.1h0M1328.6 442.1h0M1075.1 445.4h0M1204.6 445.4h0M1219.4 445.4h0M1271.2 445.4h0M1095.5 448.6h0M1099.2 448.6h0M1102.9 448.6h0M1188 448.6h0M1213.9 448.6h0M1313.8 448.6h0M1208.3 451.9h0M1065.9 455.1h0M1284.2 455.1h0M1295.3 455.1h0M1197.2 458.4h0M1263.8 458.4h0M1095.5 461.6h0M1173.2 461.6h0M1188 461.6h0M1262 461.6h0M1052.9 464.9h0M1097.3 464.9h0M1182.4 464.9h0M1274.9 464.9h0M1323 464.9h0M1326.7 464.9h0M1036.3 468.2h0M1080.7 468.2h0M1095.5 468.2h0M1276.8 468.2h0M1295.3 468.2h0M1310.1 468.2h0M1324.9 468.2h0M1332.3 468.2h0M1086.2 471.4h0M1089.9 471.4h0M1163.9 471.4h0M1178.7 471.4h0M1289.7 471.4h0M1047.4 474.7h0M1051.1 474.7h0M1091.8 474.7h0M1128.8 474.7h0M1162.1 474.7h0M1280.5 474.7h0M1317.5 474.7h0M1060.3 477.9h0M1282.3 477.9h0M1043.7 481.2h0M1176.9 481.2h0M1262 481.2h0M1299 481.2h0M1049.2 484.4h0M1173.2 487.7h0M1152.8 490.9h0M1151 494.2h0M1154.7 494.2h0M1236.1 494.2h0M1156.5 497.5h0M1158.4 500.7h0M1162.1 500.7h0M1167.6 504h0M1175 504h0M1186.1 504h0M1180.6 507.2h0M1188 507.2h0M1171.3 510.5h0M1175 510.5h0M1176.9 513.7h0M1182.4 517h0M1186.1 517h0"/>
<path stroke="#00d4ff" d="M1121.4 285.8h0M1267.5 289.1h0M1280.5 298.8h0M1284.2 298.8h0M1302.7 298.8h0M1313.8 298.8h0M1317.5 298.8h0M1223.1 302.1h0M1230.5 302.1h0M1282.3 302.1h0M1304.5 302.1h0M1308.2 302.1h0M1319.3 302.1h0M1221.3 305.4h0M1225 305.4h0M1302.7 305.4h0M1219.4 308.6h0M1260.1 308.6h0M1315.6 308.6h0M1254.6 311.9h0M1310.1 311.9h0M1321.2 311.9h0M1086.2 315.1h0M1219.4 315.1h0M1311.9 315.1h0M1323 315.1h0M1221.3 318.4h0M1232.4 318.4h0M1324.9 318.4h0M1219.4 321.6h0M1230.5 321.6h0M1132.5 324.9h0M1136.2 324.9h0M1326.7 328.1h0M1330.4 341.2h0M1110.3 344.4h0M1324.9 344.4h0M1332.3 344.4h0M1330.4 347.7h0M1321.2 350.9h0M1324.9 350.9h0M1328.6 350.9h0M1326.7 354.2h0M1069.6 357.4h0M1073.3 357.4h0M1077 357.4h0M1088.1 357.4h0M1091.8 357.4h0M1095.5 357.4h0M1102.9 357.4h0M1106.6 357.4h0M1110.3 357.4h0M1262 357.4h0M1273.1 357.4h0M1313.8 357.4h0M1332.3 357.4h0M1104.7 360.7h0M1108.4 360.7h0M1112.1 360.7h0M1241.6 360.7h0M1256.4 360.7h0M1080.7 364h0M1088.1 364h0M1099.2 364h0M1106.6 364h0M1110.3 364h0M1121.4 364h0M1243.5 364h0M1262 364h0M1310.1 364h0M1317.5 364h0M1343.4 364h0M1064 367.2h0M1067.7 367.2h0M1071.4 367.2h0M1104.7 367.2h0M1271.2 367.2h0M1282.3 367.2h0M1308.2 367.2h0M1319.3 367.2h0M1058.5 370.5h0M1065.9 370.5h0M1069.6 370.5h0M1121.4 370.5h0M1243.5 370.5h0M1269.4 370.5h0M1306.4 370.5h0M1056.6 373.7h0M1093.6 373.7h0M1104.7 373.7h0M1263.8 373.7h0M1267.5 373.7h0M1043.7 377h0M1062.2 377h0M1091.8 377h0M1099.2 377h0M1102.9 377h0M1110.3 377h0M1302.7 377h0M1306.4 377h0M1126.9 380.2h0M1252.7 380.2h0M1256.4 380.2h0M1300.8 380.2h0M1345.2 380.2h0M1121.4 383.5h0M1254.6 383.5h0M1265.7 383.5h0M1287.9 383.5h0M1295.3 383.5h0M1299 383.5h0M1049.2 386.8h0M1297.1 386.8h0M1300.8 386.8h0M1304.5 386.8h0M1308.2 386.8h0M1047.4 390h0M1280.5 390h0M1295.3 390h0M1123.2 393.3h0M1043.7 396.5h0M1073.3 396.5h0M1117.7 396.5h0M1228.7 396.5h0M1239.8 396.5h0M1265.7 396.5h0M1269.4 396.5h0M1041.8 399.8h0M1071.4 399.8h0M1075.1 399.8h0M1112.1 399.8h0M1263.8 399.8h0M1062.2 403h0M1099.2 403h0M1302.7 403h0M1282.3 406.3h0M1308.2 406.3h0M1073.3 409.5h0M1262 409.5h0M1276.8 409.5h0M1280.5 409.5h0M1284.2 409.5h0M1045.5 412.8h0M1071.4 412.8h0M1078.8 412.8h0M1260.1 412.8h0M1258.3 416.1h0M1313.8 416.1h0M1274.9 419.3h0M1278.6 419.3h0M1282.3 419.3h0M1311.9 419.3h0M1073.3 422.6h0M1247.2 422.6h0M1064 425.8h0M1078.8 425.8h0M1237.9 425.8h0M1271.2 425.8h0M1274.9 425.8h0M1308.2 425.8h0M1311.9 425.8h0M1225 429.1h0M1269.4 429.1h0M1284.2 429.1h0M1287.9 429.1h0M1306.4 429.1h0M1313.8 429.1h0M1064 432.3h0M1267.5 432.3h0M1282.3 432.3h0M1286 432.3h0M1258.3 435.6h0M1262 435.6h0M1260.1 438.8h0M1326.7 438.8h0M1062.2 442.1h0M1225 442.1h0M1186.1 445.4h0M1200.9 445.4h0M1208.3 445.4h0M1215.7 445.4h0M1106.6 448.6h0M1202.8 448.6h0M1206.5 448.6h0M1210.2 448.6h0M1093.6 451.9h0M1204.6 451.9h0M1311.9 451.9h0M1095.5 455.1h0M1180.6 455.1h0M1273.1 455.1h0M1302.7 455.1h0M1306.4 455.1h0M1097.3 458.4h0M1178.7 458.4h0M1088.1 461.6h0M1176.9 461.6h0M1184.3 461.6h0M1086.2 464.9h0M1171.3 464.9h0M1178.7 464.9h0M1263.8 464.9h0M1315.6 464.9h0M1319.3 464.9h0M1028.9 468.2h0M1084.4 468.2h0M1091.8 468.2h0M1265.7 468.2h0M1306.4 468.2h0M1317.5 468.2h0M1321.2 468.2h0M1328.6 468.2h0M1030.7 471.4h0M1038.1 471.4h0M1278.6 471.4h0M1319.3 471.4h0M1043.7 474.7h0M1287.9 474.7h0M1056.6 477.9h0M1175 477.9h0M1267.5 477.9h0M1271.2 477.9h0M1274.9 477.9h0M1278.6 477.9h0M1069.6 481.2h0M1265.7 481.2h0M1052.9 484.4h0M1071.4 484.4h0M1160.2 484.4h0M1178.7 484.4h0M1260.1 484.4h0M1263.8 484.4h0M1180.6 487.7h0M1156.5 490.9h0M1171.3 490.9h0M1252.7 490.9h0M1180.6 494.2h0M1250.9 494.2h0M1178.7 497.5h0M1165.8 500.7h0M1176.9 500.7h0M1184.3 507.2h0M1186.1 510.5h0M1184.3 513.7h0M1188 513.7h0"/>
<path stroke="#00ffff" d="M1117.7 285.8h0M1311.9 302.1h0M1306.4 305.4h0M1313.8 305.4h0M1308.2 308.6h0M1311.9 308.6h0M1319.3 308.6h0M1221.3 311.9h0M1258.3 311.9h0M1262 311.9h0M1313.8 311.9h0M1317.5 311.9h0M1223.1 315.1h0M1315.6 315.1h0M1225 318.4h0M1326.7 321.6h0M1130.6 328.1h0M1319.3 328.1h0M1321.2 331.4h0M1323 334.7h0M1324.9 337.9h0M1328.6 337.9h0M1326.7 341.2h0M1106.6 344.4h0M1112.1 347.7h0M1326.7 347.7h0M1313.8 350.9h0M1089.9 354.2h0M1093.6 354.2h0M1097.3 354.2h0M1104.7 354.2h0M1311.9 354.2h0M1319.3 354.2h0M1243.5 357.4h0M1265.7 357.4h0M1269.4 357.4h0M1067.7 360.7h0M1078.8 360.7h0M1089.9 360.7h0M1093.6 360.7h0M1245.3 360.7h0M1249 360.7h0M1260.1 360.7h0M1278.6 360.7h0M1065.9 364h0M1073.3 364h0M1091.8 364h0M1095.5 364h0M1247.2 364h0M1250.9 364h0M1254.6 364h0M1258.3 364h0M1280.5 364h0M1313.8 364h0M1089.9 367.2h0M1093.6 367.2h0M1097.3 367.2h0M1101 367.2h0M1119.5 367.2h0M1252.7 367.2h0M1256.4 367.2h0M1091.8 370.5h0M1095.5 370.5h0M1099.2 370.5h0M1102.9 370.5h0M1247.2 370.5h0M1250.9 370.5h0M1280.5 370.5h0M1284.2 370.5h0M1317.5 370.5h0M1049.2 373.7h0M1097.3 373.7h0M1101 373.7h0M1241.6 373.7h0M1271.2 373.7h0M1286 373.7h0M1304.5 373.7h0M1308.2 373.7h0M1047.4 377h0M1058.5 377h0M1095.5 377h0M1269.4 377h0M1310.1 377h0M1313.8 377h0M1049.2 380.2h0M1123.2 380.2h0M1245.3 380.2h0M1267.5 380.2h0M1304.5 380.2h0M1311.9 380.2h0M1051.1 383.5h0M1125.1 383.5h0M1302.7 383.5h0M1306.4 383.5h0M1310.1 383.5h0M1067.7 386.8h0M1123.2 386.8h0M1271.2 386.8h0M1069.6 390h0M1276.8 390h0M1049.2 393.3h0M1071.4 393.3h0M1115.8 393.3h0M1263.8 393.3h0M1274.9 393.3h0M1069.6 396.5h0M1236.1 396.5h0M1295.3 396.5h0M1064 399.8h0M1067.7 399.8h0M1226.8 399.8h0M1237.9 399.8h0M1297.1 399.8h0M1065.9 403h0M1102.9 403h0M1284.2 403h0M1041.8 406.3h0M1064 406.3h0M1267.5 406.3h0M1278.6 406.3h0M1062.2 409.5h0M1065.9 409.5h0M1080.7 409.5h0M1310.1 409.5h0M1075.1 412.8h0M1263.8 412.8h0M1047.4 416.1h0M1262 416.1h0M1265.7 416.1h0M1276.8 416.1h0M1049.2 419.3h0M1252.7 419.3h0M1267.5 419.3h0M1269.4 422.6h0M1273.1 422.6h0M1287.9 422.6h0M1267.5 425.8h0M1289.7 425.8h0M1293.4 425.8h0M1304.5 425.8h0M1077 429.1h0M1302.7 429.1h0M1310.1 429.1h0M1075.1 432.3h0M1077 435.6h0M1243.5 435.6h0M1075.1 438.8h0M1208.3 438.8h0M1237.9 438.8h0M1286 438.8h0M1206.5 442.1h0M1221.3 442.1h0M1284.2 442.1h0M1287.9 442.1h0M1064 445.4h0M1189.8 445.4h0M1212 445.4h0M1069.6 448.6h0M1184.3 448.6h0M1191.7 448.6h0M1310.1 448.6h0M1104.7 451.9h0M1182.4 451.9h0M1186.1 451.9h0M1189.8 451.9h0M1304.5 451.9h0M1104.7 458.4h0M1182.4 458.4h0M1186.1 458.4h0M1189.8 458.4h0M1193.5 458.4h0M1267.5 458.4h0M1274.9 458.4h0M1091.8 461.6h0M1102.9 461.6h0M1180.6 461.6h0M1265.7 461.6h0M1273.1 461.6h0M1093.6 464.9h0M1267.5 464.9h0M1271.2 464.9h0M1088.1 468.2h0M1262 468.2h0M1269.4 468.2h0M1313.8 468.2h0M1034.4 471.4h0M1167.6 471.4h0M1267.5 471.4h0M1315.6 471.4h0M1040 474.7h0M1169.5 474.7h0M1269.4 474.7h0M1276.8 474.7h0M1313.8 474.7h0M1300.8 477.9h0M1162.1 481.2h0M1175 484.4h0M1267.5 484.4h0M1158.4 487.7h0M1169.5 487.7h0M1176.9 487.7h0M1258.3 487.7h0M1160.2 490.9h0M1175 490.9h0M1178.7 490.9h0M1158.4 494.2h0M1173.2 494.2h0M1176.9 494.2h0M1254.6 494.2h0M1262 494.2h0M1160.2 497.5h0M1175 497.5h0M1171.3 504h0"/>
<path stroke="#2bffd4" d="M1315.6 302.1h0M1310.1 305.4h0M1317.5 305.4h0M1223.1 308.6h0M1319.3 315.1h0M1228.7 318.4h0M1223.1 321.6h0M1324.9 324.9h0M1328.6 344.4h0M1099.2 350.9h0M1102.9 350.9h0M1106.6 350.9h0M1110.3 350.9h0M1317.5 350.9h0M1086.2 354.2h0M1101 354.2h0M1108.4 354.2h0M1315.6 354.2h0M1071.4 360.7h0M1075.1 360.7h0M1263.8 360.7h0M1069.6 364h0M1077 364h0M1265.7 364h0M1269.4 364h0M1278.6 367.2h0M1254.6 370.5h0M1273.1 370.5h0M1310.1 370.5h0M1052.9 373.7h0M1256.4 373.7h0M1311.9 373.7h0M1315.6 373.7h0M1330.4 373.7h0M1051.1 377h0M1054.8 377h0M1243.5 377h0M1254.6 377h0M1284.2 377h0M1324.9 377h0M1332.3 377h0M1347.1 377h0M1052.9 380.2h0M1271.2 380.2h0M1286 380.2h0M1308.2 380.2h0M1326.7 380.2h0M1065.9 383.5h0M1269.4 383.5h0M1273.1 383.5h0M1276.8 383.5h0M1347.1 383.5h0M1267.5 386.8h0M1274.9 386.8h0M1278.6 386.8h0M1282.3 386.8h0M1051.1 390h0M1265.7 390h0M1269.4 390h0M1273.1 390h0M1119.5 393.3h0M1267.5 393.3h0M1271.2 393.3h0M1282.3 393.3h0M1286 393.3h0M1047.4 396.5h0M1110.3 396.5h0M1114 396.5h0M1232.4 396.5h0M1045.5 399.8h0M1060.3 399.8h0M1043.7 403h0M1058.5 403h0M1299 403h0M1056.6 406.3h0M1060.3 406.3h0M1093.6 406.3h0M1274.9 406.3h0M1286 406.3h0M1300.8 406.3h0M1304.5 406.3h0M1047.4 409.5h0M1051.1 409.5h0M1058.5 409.5h0M1077 409.5h0M1088.1 409.5h0M1091.8 409.5h0M1099.2 409.5h0M1265.7 409.5h0M1273.1 409.5h0M1287.9 409.5h0M1306.4 409.5h0M1267.5 412.8h0M1271.2 412.8h0M1278.6 412.8h0M1282.3 412.8h0M1311.9 412.8h0M1269.4 416.1h0M1280.5 416.1h0M1052.9 419.3h0M1271.2 419.3h0M1286 419.3h0M1058.5 422.6h0M1302.7 422.6h0M1067.7 425.8h0M1071.4 425.8h0M1075.1 425.8h0M1297.1 425.8h0M1300.8 425.8h0M1065.9 429.1h0M1073.3 429.1h0M1228.7 429.1h0M1245.3 432.3h0M1249 432.3h0M1252.7 432.3h0M1263.8 432.3h0M1073.3 435.6h0M1213.9 435.6h0M1219.4 438.8h0M1073.3 442.1h0M1217.6 442.1h0M1071.4 445.4h0M1193.5 445.4h0M1197.2 445.4h0M1274.9 445.4h0M1199.1 448.6h0M1097.3 451.9h0M1101 451.9h0M1200.9 451.9h0M1184.3 455.1h0M1191.7 455.1h0M1199.1 455.1h0M1269.4 461.6h0M1089.9 464.9h0M1032.6 468.2h0M1273.1 468.2h0M1171.3 471.4h0M1271.2 471.4h0M1273.1 474.7h0M1052.9 477.9h0M1163.9 477.9h0M1171.3 477.9h0M1269.4 481.2h0M1273.1 481.2h0M1167.6 484.4h0M1171.3 484.4h0M1162.1 487.7h0M1165.8 487.7h0M1163.9 490.9h0M1167.6 490.9h0M1162.1 494.2h0M1165.8 494.2h0M1169.5 494.2h0M1163.9 497.5h0M1167.6 497.5h0M1171.3 497.5h0M1169.5 500.7h0M1173.2 500.7h0"/>
<path stroke="#55ffaa" d="M1313.8 318.4h0M1317.5 318.4h0M1321.2 318.4h0M1226.8 321.6h0M1323 321.6h0M1317.5 324.9h0M1326.7 334.7h0M1104.7 347.7h0M1271.2 360.7h0M1274.9 360.7h0M1273.1 364h0M1276.8 364h0M1274.9 367.2h0M1311.9 367.2h0M1315.6 367.2h0M1276.8 370.5h0M1313.8 370.5h0M1245.3 373.7h0M1252.7 373.7h0M1274.9 373.7h0M1278.6 373.7h0M1282.3 373.7h0M1273.1 377h0M1280.5 377h0M1064 380.2h0M1249 380.2h0M1274.9 380.2h0M1278.6 380.2h0M1282.3 380.2h0M1330.4 380.2h0M1284.2 383.5h0M1350.8 383.5h0M1052.9 386.8h0M1276.8 396.5h0M1291.6 396.5h0M1230.5 399.8h0M1234.2 399.8h0M1047.4 403h0M1045.5 406.3h0M1049.2 406.3h0M1052.9 406.3h0M1271.2 406.3h0M1293.4 406.3h0M1297.1 406.3h0M1043.7 409.5h0M1054.8 409.5h0M1095.5 409.5h0M1049.2 412.8h0M1056.6 412.8h0M1060.3 412.8h0M1274.9 412.8h0M1286 412.8h0M1051.1 416.1h0M1054.8 416.1h0M1058.5 416.1h0M1273.1 416.1h0M1284.2 416.1h0M1263.8 419.3h0M1289.7 419.3h0M1308.2 419.3h0M1069.6 422.6h0M1250.9 422.6h0M1265.7 422.6h0M1291.6 422.6h0M1299 422.6h0M1241.6 425.8h0M1250.9 429.1h0M1067.7 432.3h0M1071.4 432.3h0M1219.4 432.3h0M1064 438.8h0M1212 438.8h0M1223.1 438.8h0M1230.5 438.8h0M1234.2 438.8h0M1210.2 442.1h0M1213.9 442.1h0M1193.5 451.9h0M1308.2 451.9h0M1102.9 455.1h0M1188 455.1h0M1271.2 458.4h0M1175 464.9h0M1299 468.2h0M1302.7 468.2h0M1175 471.4h0M1274.9 471.4h0M1293.4 471.4h0M1165.8 474.7h0M1258.3 474.7h0M1167.6 477.9h0M1286 477.9h0M1047.4 481.2h0M1165.8 481.2h0M1169.5 481.2h0M1173.2 481.2h0M1276.8 481.2h0M1163.9 484.4h0M1256.4 490.9h0"/>
<path stroke="#80ff80" d="M1315.6 321.6h0M1319.3 321.6h0M1267.5 360.7h0M1337.8 360.7h0M1249 373.7h0M1247.2 377h0M1276.8 377h0M1280.5 383.5h0M1065.9 396.5h0M1280.5 396.5h0M1287.9 396.5h0M1049.2 399.8h0M1056.6 399.8h0M1282.3 399.8h0M1273.1 403h0M1280.5 403h0M1287.9 403h0M1295.3 403h0M1289.7 406.3h0M1269.4 409.5h0M1295.3 409.5h0M1302.7 409.5h0M1052.9 412.8h0M1067.7 412.8h0M1289.7 412.8h0M1308.2 412.8h0M1310.1 416.1h0M1056.6 419.3h0M1065.9 422.6h0M1295.3 422.6h0M1245.3 425.8h0M1069.6 429.1h0M1232.4 429.1h0M1243.5 429.1h0M1247.2 429.1h0M1241.6 432.3h0M1256.4 432.3h0M1065.9 435.6h0M1069.6 435.6h0M1239.8 435.6h0M1071.4 438.8h0M1215.7 438.8h0M1065.9 442.1h0M1067.7 445.4h0M1195.4 448.6h0M1197.2 451.9h0M1282.3 451.9h0M1195.4 455.1h0M1101 458.4h0M1260.1 471.4h0M1311.9 471.4h0M1291.6 474.7h0M1299 474.7h0M1041.8 477.9h0M1293.4 484.4h0M1262 487.7h0M1267.5 490.9h0M1271.2 490.9h0M1258.3 494.2h0"/>
<path stroke="#aaff55" d="M1324.9 331.4h0M1108.4 347.7h0M1250.9 377h0M1328.6 377h0M1056.6 380.2h0M1348.9 380.2h0M1054.8 383.5h0M1052.9 393.3h0M1067.7 393.3h0M1051.1 396.5h0M1284.2 396.5h0M1293.4 399.8h0M1051.1 403h0M1054.8 403h0M1097.3 406.3h0M1291.6 409.5h0M1299 409.5h0M1064 412.8h0M1300.8 412.8h0M1287.9 416.1h0M1071.4 419.3h0M1256.4 419.3h0M1260.1 419.3h0M1300.8 419.3h0M1304.5 419.3h0M1062.2 422.6h0M1249 425.8h0M1236.1 429.1h0M1239.8 429.1h0M1265.7 429.1h0M1260.1 432.3h0M1217.6 435.6h0M1221.3 435.6h0M1226.8 438.8h0M1069.6 442.1h0M1099.2 455.1h0M1173.2 468.2h0M1263.8 471.4h0M1300.8 471.4h0M1302.7 474.7h0M1260.1 477.9h0M1067.7 484.4h0M1260.1 490.9h0M1263.8 490.9h0"/>
<path stroke="#d5ff2a" d="M1321.2 324.9h0M1323 328.1h0M1060.3 380.2h0M1054.8 390h0M1054.8 396.5h0M1052.9 399.8h0M1274.9 399.8h0M1278.6 399.8h0M1286 399.8h0M1289.7 399.8h0M1276.8 403h0M1291.6 403h0M1297.1 412.8h0M1304.5 412.8h0M1069.6 416.1h0M1299 416.1h0M1302.7 416.1h0M1306.4 416.1h0M1060.3 419.3h0M1293.4 419.3h0M1263.8 425.8h0M1234.2 432.3h0M1237.9 432.3h0M1236.1 435.6h0M1067.7 438.8h0M1176.9 468.2h0M1295.3 474.7h0M1310.1 474.7h0M1297.1 477.9h0M1065.9 481.2h0M1280.5 481.2h0M1056.6 484.4h0M1284.2 487.7h0"/>
<path stroke="#ffff00" d="M1293.4 412.8h0M1062.2 416.1h0M1291.6 416.1h0M1067.7 419.3h0M1297.1 419.3h0M1226.8 432.3h0M1225 435.6h0M1232.4 435.6h0M1064 451.9h0M1297.1 471.4h0M1304.5 471.4h0M1308.2 471.4h0M1262 474.7h0M1265.7 474.7h0M1306.4 474.7h0M1045.5 477.9h0M1263.8 477.9h0M1265.7 487.7h0"/>
<path stroke="#ffd500" d="M1062.2 383.5h0M1056.6 386.8h0M1064 386.8h0M1056.6 393.3h0M1295.3 416.1h0M1254.6 422.6h0M1262 422.6h0M1262 429.1h0M1223.1 432.3h0M1228.7 435.6h0M1067.7 451.9h0M1278.6 451.9h0M1276.8 455.1h0M1280.5 455.1h0M1049.2 477.9h0M1289.7 477.9h0M1051.1 481.2h0M1284.2 481.2h0M1295.3 481.2h0M1060.3 484.4h0M1064 484.4h0M1286 484.4h0M1289.7 484.4h0"/>
<path stroke="#ffaa00" d="M1058.5 383.5h0M1065.9 390h0M1064 419.3h0M1254.6 429.1h0M1065.9 448.6h0M1271.2 484.4h0"/>
<path stroke="#ff8000" d="M1058.5 396.5h0M1062.2 396.5h0M1258.3 422.6h0M1252.7 425.8h0M1258.3 429.1h0M1230.5 432.3h0M1293.4 477.9h0M1282.3 484.4h0M1269.4 487.7h0M1280.5 487.7h0"/>
<path stroke="#ff5500" d="M1058.5 390h0M1101 406.3h0M1065.9 416.1h0M1287.9 481.2h0M1291.6 481.2h0"/>
<path stroke="#ff2a00" d="M1060.3 386.8h0M1256.4 425.8h0M1260.1 425.8h0M1274.9 484.4h0"/>
<path stroke="#ff0000" d="M1060.3 393.3h0"/>
<path stroke="#d50000" d="M1054.8 481.2h0M1062.2 481.2h0"/>
<path stroke="#aa0000" d="M1064 393.3h0M1273.1 487.7h0"/>
<path stroke="#800000" d="M1062.2 390h0M1058.5 481.2h0M1278.6 484.4h0M1276.8 487.7h0"/>
</g></g>
<defs><clipPath id="rclip"><path d="M1190.0 756.1C1197.7 754.6 1200.5 753.8 1208.8 753.3C1217.1 752.8 1231.5 752.5 1240.0 753.3C1248.5 754.1 1252.7 755.1 1260.0 758.0C1267.3 760.9 1277.1 766.5 1283.8 770.5C1290.4 774.5 1295.8 778.0 1300.0 781.8C1304.2 785.5 1305.2 788.2 1308.8 793.0C1312.3 797.8 1316.2 803.4 1321.2 810.5C1326.2 817.6 1333.8 828.2 1338.8 835.5C1343.8 842.8 1347.0 848.2 1351.2 854.2C1355.5 860.3 1360.5 866.7 1364.5 872.0C1368.5 877.3 1372.4 881.1 1375.0 886.0C1377.6 890.9 1379.0 896.4 1380.0 901.2C1381.0 906.1 1381.5 910.8 1381.2 915.0C1381.0 919.2 1380.4 922.3 1378.8 926.2C1377.1 930.2 1374.2 935.4 1371.2 938.8C1368.3 942.1 1364.8 944.0 1361.2 946.2C1357.7 948.5 1353.8 950.6 1350.0 952.5C1346.2 954.4 1342.5 955.9 1338.8 957.5C1335.0 959.1 1332.5 960.0 1327.5 961.9C1322.5 963.8 1314.4 966.9 1308.8 968.8C1303.1 970.6 1299.0 971.4 1293.8 973.1C1288.5 974.8 1283.1 976.8 1277.5 978.8C1271.9 980.7 1265.4 983.0 1260.0 985.0C1254.6 987.0 1250.4 988.5 1245.0 990.6C1239.6 992.7 1234.7 994.9 1227.5 997.5C1220.3 1000.1 1209.7 1003.2 1201.7 1006.0C1193.7 1008.8 1186.4 1012.8 1179.4 1014.4C1172.4 1016.0 1165.5 1016.3 1159.9 1015.8C1154.3 1015.3 1150.2 1013.9 1146.0 1011.6C1141.8 1009.3 1137.6 1005.3 1134.8 1001.8C1132.0 998.3 1130.9 992.9 1129.3 990.7C1127.7 988.5 1126.5 990.5 1125.0 988.8C1123.5 987.0 1122.1 982.5 1120.0 980.0C1117.9 977.5 1115.8 975.5 1112.5 973.8C1109.2 972.0 1106.2 970.5 1100.0 969.4C1093.8 968.3 1083.3 968.0 1075.0 966.9C1066.7 965.8 1057.3 964.5 1050.0 962.5C1042.7 960.5 1036.9 958.1 1031.2 955.0C1025.6 951.9 1020.0 947.5 1016.2 943.8C1012.5 940.0 1010.8 936.5 1008.8 932.5C1006.7 928.5 1004.7 925.2 1003.8 920.0C1002.8 914.8 1002.9 907.5 1003.1 901.2C1003.3 895.0 1004.0 887.0 1005.0 882.5C1006.0 878.0 1007.0 877.7 1008.9 874.0C1010.8 870.3 1012.9 865.2 1016.2 860.5C1019.6 855.8 1022.5 852.9 1028.8 845.5C1035.0 838.1 1045.6 823.9 1053.8 816.1C1061.9 808.3 1069.0 804.0 1077.5 798.6C1086.0 793.2 1094.4 788.7 1105.0 783.6C1115.6 778.5 1131.7 771.5 1141.2 768.0C1150.8 764.5 1154.4 764.4 1162.5 762.4C1170.6 760.4 1182.3 757.6 1190.0 756.1Z"/></clipPath></defs>
<path d="M1190.0 756.1C1197.7 754.6 1200.5 753.8 1208.8 753.3C1217.1 752.8 1231.5 752.5 1240.0 753.3C1248.5 754.1 1252.7 755.1 1260.0 758.0C1267.3 760.9 1277.1 766.5 1283.8 770.5C1290.4 774.5 1295.8 778.0 1300.0 781.8C1304.2 785.5 1305.2 788.2 1308.8 793.0C1312.3 797.8 1316.2 803.4 1321.2 810.5C1326.2 817.6 1333.8 828.2 1338.8 835.5C1343.8 842.8 1347.0 848.2 1351.2 854.2C1355.5 860.3 1360.5 866.7 1364.5 872.0C1368.5 877.3 1372.4 881.1 1375.0 886.0C1377.6 890.9 1379.0 896.4 1380.0 901.2C1381.0 906.1 1381.5 910.8 1381.2 915.0C1381.0 919.2 1380.4 922.3 1378.8 926.2C1377.1 930.2 1374.2 935.4 1371.2 938.8C1368.3 942.1 1364.8 944.0 1361.2 946.2C1357.7 948.5 1353.8 950.6 1350.0 952.5C1346.2 954.4 1342.5 955.9 1338.8 957.5C1335.0 959.1 1332.5 960.0 1327.5 961.9C1322.5 963.8 1314.4 966.9 1308.8 968.8C1303.1 970.6 1299.0 971.4 1293.8 973.1C1288.5 974.8 1283.1 976.8 1277.5 978.8C1271.9 980.7 1265.4 983.0 1260.0 985.0C1254.6 987.0 1250.4 988.5 1245.0 990.6C1239.6 992.7 1234.7 994.9 1227.5 997.5C1220.3 1000.1 1209.7 1003.2 1201.7 1006.0C1193.7 1008.8 1186.4 1012.8 1179.4 1014.4C1172.4 1016.0 1165.5 1016.3 1159.9 1015.8C1154.3 1015.3 1150.2 1013.9 1146.0 1011.6C1141.8 1009.3 1137.6 1005.3 1134.8 1001.8C1132.0 998.3 1130.9 992.9 1129.3 990.7C1127.7 988.5 1126.5 990.5 1125.0 988.8C1123.5 987.0 1122.1 982.5 1120.0 980.0C1117.9 977.5 1115.8 975.5 1112.5 973.8C1109.2 972.0 1106.2 970.5 1100.0 969.4C1093.8 968.3 1083.3 968.0 1075.0 966.9C1066.7 965.8 1057.3 964.5 1050.0 962.5C1042.7 960.5 1036.9 958.1 1031.2 955.0C1025.6 951.9 1020.0 947.5 1016.2 943.8C1012.5 940.0 1010.8 936.5 1008.8 932.5C1006.7 928.5 1004.7 925.2 1003.8 920.0C1002.8 914.8 1002.9 907.5 1003.1 901.2C1003.3 895.0 1004.0 887.0 1005.0 882.5C1006.0 878.0 1007.0 877.7 1008.9 874.0C1010.8 870.3 1012.9 865.2 1016.2 860.5C1019.6 855.8 1022.5 852.9 1028.8 845.5C1035.0 838.1 1045.6 823.9 1053.8 816.1C1061.9 808.3 1069.0 804.0 1077.5 798.6C1086.0 793.2 1094.4 788.7 1105.0 783.6C1115.6 778.5 1131.7 771.5 1141.2 768.0C1150.8 764.5 1154.4 764.4 1162.5 762.4C1170.6 760.4 1182.3 757.6 1190.0 756.1Z" fill="#fff" stroke="#2e2e2e" stroke-width="2.1"/>
<g clip-path="url(#rclip)" fill="none" stroke="#2e2e2e" stroke-width="2.0" stroke-linejoin="round">
<path d="M1011.9 878.0 1015.5 871.2 1017.5 866.5 1020.0 861.1 1023.5 856.7 1026.6 852.3 1031.2 848.0 1034.3 845.4 1038.3 839.6 1041.6 835.4 1044.7 831.4 1048.9 827.4 1052.6 823.3 1055.6 819.2 1059.9 816.2 1064.4 811.5 1068.3 808.2 1073.5 804.1 1076.9 800.5 1082.8 799.1 1088.6 796.6 1095.0 794.9M1106.2 785.5 1111.3 783.5 1115.7 781.3 1119.0 779.2 1125.0 776.5 1130.0 773.3 1136.0 772.0 1141.2 769.2M1165.0 764.9 1170.3 763.3 1176.0 762.6 1182.1 761.8 1187.1 760.9 1192.5 759.2M1027.5 878.0 1028.7 872.3 1030.3 867.6 1031.2 861.7 1032.5 856.8 1035.7 851.6 1039.1 848.8 1041.1 844.6 1045.0 840.5 1048.3 836.8 1051.6 832.0 1056.6 828.8 1060.0 824.2 1065.3 821.8 1072.5 819.9 1076.4 816.2 1080.0 813.0 1084.5 807.5 1087.5 803.0 1092.0 800.0 1096.2 798.0 1093.8 795.5M1050.0 828.0 1055.6 826.1 1060.0 824.2M1072.5 819.9 1073.8 823.6 1080.5 821.0 1087.5 819.9 1093.7 818.5 1098.7 817.1 1103.8 814.9 1110.2 813.3 1116.2 812.4 1120.9 807.3 1126.2 803.0 1127.5 798.0 1130.0 797.0M1116.2 812.4 1121.2 814.2 1125.0 817.4 1125.5 820.0M1097.5 798.0 1102.9 797.2 1108.8 796.8 1114.5 798.3 1120.0 799.2 1124.4 797.5 1130.0 797.4 1130.6 793.6 1135.0 788.0 1141.2 784.2 1146.9 782.6 1152.5 779.9 1161.2 781.8 1162.5 783.6 1168.8 782.4 1171.3 777.2 1173.1 771.8 1167.5 769.2 1163.8 763.0M1106.2 785.5 1102.5 791.8 1097.5 798.0M1106.2 788.2 1113.0 788.9 1120.0 789.2 1125.5 789.9 1131.2 789.9 1135.0 788.0M1130.0 797.4 1137.5 796.1 1146.2 799.2 1152.8 799.6 1160.0 799.9 1161.2 806.8 1157.5 813.0 1151.2 815.5 1144.3 814.5 1137.5 813.0 1131.4 815.1 1125.0 814.9 1116.2 812.4M1168.8 784.2 1173.8 784.9 1177.5 779.2 1185.0 774.2 1188.8 768.7 1191.2 761.8 1192.5 756.8M1168.8 784.2 1165.0 789.2 1166.2 795.5 1161.2 800.5M1151.2 816.1 1149.7 820.0M1145.6 815.5 1144.4 819.9 1144.4 820.0M1100.0 840.4 1093.5 842.8 1088.8 845.5 1087.5 851.8 1081.2 851.1 1080.4 846.1 1080.0 840.5 1075.0 838.0 1073.8 834.2 1067.1 834.8 1062.5 834.2 1068.1 829.9 1073.8 824.2M1062.5 834.2 1058.8 840.5 1053.8 846.8 1051.1 851.2 1047.5 856.8 1045.6 858.6 1048.8 860.5 1048.1 864.2 1051.2 866.8 1051.2 871.8 1055.0 874.9M1080.0 840.5 1079.2 845.1 1079.4 850.8 1080.0 855.4 1078.8 860.5 1075.6 864.1 1072.5 867.9 1068.1 871.1M1087.5 851.8 1088.8 860.5 1091.2 865.5 1087.5 870.5 1087.5 878.0M1200.0 764.2 1198.1 768.8 1194.9 773.9 1192.5 779.2 1188.8 784.5 1183.8 789.2 1180.7 793.6 1178.1 798.1 1175.0 803.0 1171.7 808.2 1170.3 812.9 1166.2 818.0 1165.5 820.0M1200.0 780.5 1195.4 784.3 1191.2 789.2 1187.8 794.8 1186.0 799.9 1183.0 805.2 1180.0 810.5 1176.4 814.6 1172.6 820.0M1200.0 803.0 1196.2 806.8 1194.8 812.4 1193.8 818.0 1193.3 820.0M1200.0 810.5 1197.2 820.0M1207.5 753.6 1204.6 758.7 1202.5 764.2 1198.4 769.7 1195.0 775.5 1192.9 779.7 1190.0 784.2M1215.0 754.9 1213.1 759.9 1211.2 764.2 1207.8 769.6 1202.8 773.8 1200.0 778.0 1200.0 780.5 1196.4 785.6 1193.7 791.0 1190.0 795.5M1230.0 755.5 1227.1 760.2 1224.1 764.5 1220.0 769.2 1217.5 775.5 1214.7 780.9 1211.8 786.5 1209.7 791.5 1206.5 795.3 1203.8 800.5 1196.2 806.8 1195.0 813.7 1193.6 820.0M1242.5 755.5 1243.1 759.9 1238.1 762.4 1237.5 769.2 1234.1 773.8 1231.2 778.0 1225.0 781.8 1221.7 787.9 1218.0 793.1 1215.0 798.0 1211.0 801.9 1207.5 806.8 1202.2 810.6 1197.5 815.5 1196.6 820.0M1266.2 766.8 1260.0 774.2 1255.0 775.5 1251.2 784.2 1251.2 789.2 1245.0 791.8 1240.0 797.4 1235.7 801.3 1231.2 804.2 1223.8 805.5 1218.2 808.3 1212.5 810.5 1209.5 815.0 1205.0 819.2 1204.6 820.0M1251.2 789.9 1258.8 791.8 1263.8 790.5 1270.0 791.8 1272.5 790.5 1277.5 791.8 1280.0 798.0 1276.2 799.2 1281.2 806.8M1283.8 773.0 1285.0 778.0 1280.0 784.2 1276.9 791.1M1277.5 799.2 1286.2 798.0 1291.3 799.8 1296.2 801.8 1303.8 803.0 1307.5 801.8 1306.8 796.5 1307.5 790.5M1231.2 804.9 1236.7 807.4 1243.8 809.2 1250.6 811.1 1257.5 812.0 1265.0 809.2 1270.0 808.5 1275.2 808.2 1279.9 808.1 1285.0 807.8 1289.9 808.4 1294.6 809.1 1300.0 809.9 1304.0 813.3 1309.5 817.5 1315.0 820.5 1319.7 823.0 1323.4 827.1 1327.5 830.5 1330.2 834.8 1333.5 837.8 1336.8 842.6 1340.0 846.8 1345.7 850.6 1351.2 855.5M1243.8 812.4 1250.9 812.5 1257.5 812.0 1262.0 812.8 1267.5 814.2 1272.5 813.4 1277.5 813.0 1284.5 814.3 1290.0 815.5 1298.8 813.6 1303.9 816.1 1310.0 819.2 1314.3 824.0 1318.8 826.8 1323.7 831.2 1328.8 835.5 1332.4 839.5 1336.7 843.4 1339.4 847.8 1342.5 851.8M1243.8 812.4 1241.2 817.4 1236.8 820.0M1268.8 815.5 1269.5 820.0M1300.0 838.9 1303.8 837.4 1304.4 834.2 1309.4 831.2 1314.8 829.2 1318.8 826.8M1304.4 835.5 1307.5 843.0 1313.8 843.0 1317.5 847.0 1321.2 851.8 1327.5 853.6 1330.1 858.3 1333.8 862.7 1336.2 866.8 1336.2 871.8 1342.5 872.4 1344.6 865.5 1345.6 858.0 1342.5 851.8M1307.5 803.0 1310.6 808.4 1314.0 813.0 1317.2 818.6 1320.0 823.0 1323.9 827.3 1327.8 832.9 1331.2 836.5 1334.9 841.6 1338.8 845.5 1341.4 850.7 1346.2 855.1 1349.7 860.7 1352.5 865.5 1356.0 871.8 1360.0 878.0M1331.2 878.0 1336.2 871.8M1267.5 763.0 1271.2 765.6 1277.1 768.2 1281.5 771.4 1285.0 774.2 1290.0 777.6 1293.2 780.7 1298.8 784.2 1303.2 787.2 1307.5 791.1M1011.9 870.0 1009.8 875.2 1008.7 879.2 1007.5 885.0 1006.8 890.8 1006.5 896.3 1006.2 901.2 1007.8 907.5 1007.4 913.2 1008.8 920.0 1010.6 925.4 1012.6 930.2 1014.2 935.1 1016.2 940.0 1020.2 943.2 1024.0 946.0 1028.8 950.0 1033.2 952.5 1037.7 956.2 1042.8 960.2 1047.5 961.9 1052.9 962.2 1057.9 963.3 1062.5 963.8 1067.2 964.7 1072.2 963.4 1077.9 965.0 1083.2 965.5 1087.5 966.2 1093.2 968.5 1100.0 969.4M1047.5 880.0 1041.2 882.5 1033.8 881.9 1030.0 875.0 1028.8 870.0M1028.8 870.0 1026.4 876.3 1025.0 882.5 1021.3 888.2 1016.2 893.8 1013.8 897.5 1008.8 898.1M1036.9 891.9 1030.0 897.5 1028.1 902.5 1026.2 907.5 1020.0 913.8 1018.8 922.5 1012.5 920.0 1008.1 911.2M1018.8 922.5 1022.5 930.0 1030.0 931.2 1037.5 931.9 1038.8 925.0 1044.4 922.5M1037.5 931.9 1042.5 937.5 1047.5 945.0 1053.8 952.5 1052.5 953.8 1047.5 955.0 1042.5 953.0 1036.9 951.9 1031.2 950.0 1027.3 947.8 1020.8 946.2 1016.2 943.8M1053.8 952.5 1059.2 952.9 1065.0 953.1 1073.8 950.0 1075.0 945.0M1065.0 953.8 1066.2 961.2 1073.2 962.7 1080.0 963.1 1086.6 964.6 1093.8 966.2M1047.5 955.0 1051.2 960.0 1055.7 961.5 1062.5 963.8M1073.8 950.0 1078.8 952.2 1082.5 955.0 1087.2 955.7 1092.5 957.5 1096.9 951.2 1097.5 945.0 1099.0 940.1 1100.0 935.0M1100.0 927.0 1091.9 927.5M1092.5 957.5 1095.7 963.4 1100.0 968.8M1097.5 945.0 1100.0 947.0M1068.1 871.2 1070.0 870.0M1081.2 893.1 1080.0 886.2 1087.5 882.5 1095.0 881.2 1100.0 879.2M1087.5 870.0 1088.8 877.5 1093.8 881.2M1317.5 884.4 1320.0 882.5 1325.1 881.6 1330.0 880.0 1333.8 873.8 1338.8 872.5 1337.5 870.0M1321.9 894.4 1330.0 893.8 1335.1 895.6 1341.0 895.8 1346.2 896.9 1348.8 890.0 1345.6 884.9 1343.3 879.9 1340.0 875.0 1338.8 872.5M1348.8 890.0 1357.5 893.8 1362.5 898.8 1363.6 904.0 1363.8 908.8 1361.2 913.5 1357.5 917.5 1350.0 916.2 1347.5 909.1 1345.0 903.8 1346.2 896.9M1320.6 908.8 1324.8 914.7 1328.8 920.0 1332.5 925.0 1333.8 931.2 1340.0 932.5 1341.2 937.5 1341.2 945.6M1330.0 893.8 1332.5 902.5 1335.1 907.1 1337.5 911.2 1340.4 915.5 1343.8 920.0 1347.5 925.0 1341.9 932.5M1306.2 915.6 1310.0 923.8 1313.8 932.5 1313.8 939.4 1316.2 941.2M1357.5 870.0 1360.4 874.8 1364.2 878.1 1367.5 882.5 1369.4 887.4 1373.1 892.7 1375.0 897.5 1375.5 903.1 1377.3 907.9 1377.5 912.5 1377.2 919.3 1376.2 925.0 1373.4 930.3 1370.0 935.0 1365.3 940.7 1361.2 945.0M1361.2 877.5 1363.9 882.8 1365.3 886.6 1369.2 890.5 1371.2 895.0 1372.3 900.8 1373.2 905.6 1373.8 911.2 1371.8 918.6 1370.0 925.0 1367.4 930.0 1363.8 935.0 1360.0 942.5 1354.2 944.5 1348.8 945.8 1342.5 948.1M1363.8 908.8 1368.2 910.1 1373.8 911.2M1357.5 917.5 1360.8 921.6 1365.0 926.2 1370.0 925.0M1350.0 916.2 1353.8 920.2 1357.5 923.8 1355.0 932.5 1350.8 937.2 1347.5 941.2 1341.9 945.0M1338.1 956.2 1343.3 954.6 1350.0 952.5 1354.9 948.8 1361.2 946.2M1100.0 839.4 1105.3 835.1 1110.0 831.2 1115.3 828.5 1121.2 826.2 1125.0 822.5 1126.9 820.0M1121.2 826.2 1124.4 832.5 1130.0 836.9 1134.4 836.9M1100.0 841.2 1103.8 848.8 1105.2 853.7 1106.2 858.8 1107.5 864.2 1108.8 868.8 1107.5 876.2 1100.0 878.8M1108.8 868.8 1112.2 864.8 1116.2 861.2 1121.2 857.5 1123.8 848.8 1128.1 842.5 1130.0 836.9M1107.5 876.2 1110.0 883.8 1108.8 892.5M1144.4 820.0 1141.2 828.8 1136.2 833.8 1134.4 836.9 1132.9 843.3 1131.9 848.8 1132.0 854.3 1131.2 858.8 1134.4 867.5 1136.2 871.9 1135.0 880.0 1134.4 887.5 1128.8 891.5 1123.7 891.7 1119.1 891.8 1114.1 892.6 1108.8 892.5 1100.0 895.0M1151.2 820.0 1149.4 825.0 1148.1 830.0 1145.6 837.0 1143.1 842.5 1145.0 851.2 1144.9 856.2 1142.5 861.2 1141.2 870.0 1136.9 871.9M1165.0 820.0 1163.1 825.8 1161.2 833.8 1161.2 841.2 1159.5 846.2 1157.5 851.2 1153.3 856.6 1150.0 861.2 1146.2 870.0 1146.2 875.6 1140.5 874.0 1136.2 872.5M1172.5 820.0 1171.2 826.2 1173.8 831.2 1169.4 836.2 1170.0 843.8 1165.0 850.0 1162.5 857.5 1164.4 860.0 1160.0 864.4 1161.2 870.0 1155.0 876.2 1146.2 875.6M1192.5 820.0 1189.4 824.4 1186.2 830.0 1181.2 837.5 1173.8 843.8 1170.0 851.2 1167.5 856.2 1162.5 861.2 1161.2 863.8M1195.0 820.0 1192.9 826.7 1190.0 832.5 1190.0 840.0M1205.0 820.0 1198.8 827.5 1193.8 835.0 1193.8 840.0M1186.2 841.9 1191.3 840.6 1197.5 840.6 1203.4 837.2 1208.8 833.8 1213.8 832.7 1220.0 831.9 1225.0 832.5 1226.2 840.0 1222.5 848.8 1219.4 856.2 1215.0 860.0 1206.2 861.2 1198.8 864.4 1192.5 863.1 1187.5 860.0 1182.5 856.2 1181.2 851.2 1183.7 846.5 1186.2 841.9M1225.0 832.5 1232.5 826.2 1237.5 821.2 1241.2 820.0M1219.4 856.2 1225.7 858.9 1231.2 861.2 1237.0 864.1 1241.2 865.6 1247.5 865.5 1253.1 864.4 1257.8 859.4 1261.2 853.8 1267.5 848.8 1270.1 844.1 1273.8 838.8 1272.5 834.5 1271.3 829.0 1270.0 823.8 1268.8 820.0M1273.8 838.8 1278.8 845.0 1281.2 851.2 1276.9 856.2 1277.5 862.5 1283.8 866.2 1287.5 861.2 1289.5 855.8 1291.2 848.8 1295.0 841.2 1300.0 838.8M1253.1 864.4 1252.5 870.0 1245.7 872.4 1238.8 875.0 1232.0 874.2 1225.0 873.8 1220.1 874.4 1215.0 875.0 1208.9 873.4 1202.5 870.0 1193.1 870.0 1192.5 863.1M1181.2 851.2 1180.0 853.8 1175.4 858.8 1171.2 863.8 1165.5 868.4 1160.0 872.5 1153.8 876.2M1193.1 870.0 1186.7 872.2 1181.2 875.0 1177.5 881.2 1172.5 885.0 1178.1 885.6 1183.7 885.4 1189.0 886.2 1195.0 886.2 1198.8 885.0 1203.8 881.2 1210.0 878.3 1215.0 875.0M1238.8 875.0 1241.2 882.5 1240.0 886.2 1235.1 886.9 1229.6 886.9 1225.0 887.5 1218.6 888.3 1212.5 888.8 1207.5 889.5 1202.5 891.2 1198.0 893.3 1192.5 893.8 1187.5 898.1 1193.8 896.2 1198.8 895.0 1197.5 901.2 1193.8 906.2M1172.5 885.0 1165.5 887.4 1158.8 889.4 1155.0 892.5 1150.1 894.1 1144.3 895.7 1140.0 896.2 1134.2 894.4 1128.8 891.5M1134.4 872.5 1141.2 875.0 1148.8 880.0 1151.9 884.8 1155.0 890.0M1155.0 892.5 1155.0 895.0 1159.9 894.6 1164.6 893.2 1170.0 892.5 1174.8 892.1 1180.6 893.6 1185.0 893.8 1191.2 895.0M1155.0 897.5 1152.5 902.5 1147.5 907.5 1143.7 903.3 1140.0 898.1 1133.9 899.0 1128.8 900.0 1124.5 902.9 1118.8 905.0 1120.0 908.8 1116.2 916.2 1120.6 914.0 1126.4 915.2 1132.0 913.8 1137.5 913.1 1142.5 913.8 1143.1 916.2 1138.2 919.2 1132.8 923.3 1127.5 926.2 1125.2 931.0 1122.2 935.6 1120.0 940.0 1116.7 945.6 1113.8 950.0M1116.2 916.2 1111.2 919.7 1103.8 923.8 1100.0 927.5M1147.5 907.5 1152.8 906.7 1160.0 906.2 1165.2 905.9 1170.5 904.2 1175.0 903.8 1180.0 906.2 1175.5 909.7 1171.2 912.6 1167.5 915.0 1160.0 920.0 1157.4 925.3 1155.3 930.3 1152.5 935.0 1158.8 941.2 1160.0 945.0 1165.0 942.1 1169.3 940.0 1173.8 937.5 1178.3 934.3 1182.5 930.0 1184.3 924.7 1186.2 920.0 1185.9 914.9 1186.2 910.0 1187.2 903.7 1187.5 898.1M1160.0 907.5 1152.5 913.8 1149.7 917.6 1145.7 920.7 1142.5 925.0 1140.0 932.5 1137.2 937.0 1133.4 941.4 1131.2 945.0 1127.5 950.0M1160.0 945.0 1167.5 946.2 1173.2 941.4 1177.5 936.2 1182.7 932.3 1187.5 926.2 1193.5 925.0 1198.3 924.5 1203.8 923.8 1207.5 918.8 1210.0 910.0 1215.0 906.2 1215.0 900.0 1219.3 894.6 1223.8 891.2 1225.0 888.1M1206.2 892.5 1205.3 899.1 1203.8 906.2 1199.4 910.6 1195.0 915.0 1191.0 917.4 1186.2 920.0M1240.0 886.2 1246.2 888.1 1241.5 891.8 1237.5 895.0 1233.1 899.9 1227.5 905.0 1223.9 909.3 1218.9 914.0 1215.0 917.5 1210.9 922.3 1207.5 926.2 1201.4 927.7 1195.3 928.4 1190.0 930.0 1185.5 933.2 1180.0 936.2 1175.0 941.1 1170.0 946.2 1165.0 950.0M1246.2 888.1 1250.0 893.8 1251.2 898.8M1250.0 888.1 1254.0 884.1 1257.5 881.2 1263.8 875.0 1268.2 870.6 1273.8 866.2 1277.5 863.1M1283.8 866.2 1285.0 875.0 1283.8 882.5 1290.0 885.0M1277.5 917.5 1279.0 922.8 1281.2 928.8 1283.8 936.2 1281.2 945.0 1286.2 948.8 1291.2 950.0M1278.8 926.2 1272.5 929.3 1266.2 932.5 1265.0 937.5 1257.5 941.2 1252.4 946.4 1247.5 950.0M1151.2 935.0 1147.1 938.9 1142.1 941.4 1137.5 945.0 1133.8 950.0M1107.5 950.0 1112.5 955.0 1112.5 959.8 1113.8 965.0 1115.6 972.5M1113.9 950.0 1112.5 953.8M1126.9 950.0 1122.5 958.8 1118.8 967.5 1119.7 972.9 1122.5 978.8 1123.1 981.2M1115.6 967.5 1118.8 968.1M1138.2 950.0 1133.8 953.8 1131.2 962.5 1129.1 967.6 1126.2 971.2 1125.0 977.5 1123.8 981.2M1163.8 950.0 1159.6 951.7 1154.8 953.8 1150.0 956.2 1146.6 960.6 1142.5 965.0 1140.0 971.2 1137.5 976.2 1132.5 981.2 1125.0 980.0M1140.0 971.2 1145.4 971.8 1150.0 970.0M1132.5 981.2 1133.8 987.5 1139.2 990.1 1143.8 990.6 1147.5 990.0 1146.2 983.8 1148.2 978.6 1150.0 973.8 1152.5 970.0M1147.5 990.0 1153.8 993.8 1156.2 1000.0 1161.2 1007.5 1157.5 1010.0 1153.8 1008.8 1148.8 1012.5M1153.8 993.8 1157.5 988.8 1163.9 987.4 1168.9 984.6 1175.0 982.5 1179.4 980.2 1185.4 978.1 1189.7 975.3 1195.0 973.8 1198.8 968.1 1207.5 969.4M1149.4 988.1 1151.2 981.2 1157.5 975.0 1162.0 971.6 1166.2 967.5 1173.4 965.4 1180.0 963.1 1185.0 956.2 1190.7 955.4 1197.5 952.9 1203.8 951.2 1207.5 952.5M1204.2 950.0 1204.4 951.2 1210.0 956.2 1210.0 961.2 1207.5 969.4 1206.6 975.6 1205.0 983.8 1198.8 987.5 1199.4 991.9M1161.2 1008.1 1166.5 1006.3 1172.0 1005.3 1177.4 1002.1 1182.5 1001.2 1186.2 996.2 1192.7 994.2 1199.4 991.9 1206.0 991.6 1212.5 992.5 1217.6 992.1 1224.3 991.2 1230.0 990.6 1235.5 988.0 1242.5 983.8 1251.9 981.9M1207.5 969.4 1211.2 966.9 1218.4 964.7 1222.5 962.5 1228.0 961.9 1233.9 961.8 1238.8 962.2M1247.9 950.0 1243.7 953.2 1239.4 956.2 1240.0 965.0 1241.2 972.5 1247.5 973.1 1248.8 981.2 1251.9 981.9M1157.5 1010.6 1162.0 1011.6 1166.9 1011.6 1172.5 1012.5 1175.0 1015.0M1287.5 950.0 1285.0 953.8 1288.8 961.2"/>
<path fill="#00aaff" d="M1068.1 871.2 1062.5 875.0 1055.0 875.6 1047.5 880.0 1041.2 883.8 1036.9 891.9 1041.9 896.9 1044.4 905.0 1043.1 908.8 1047.5 913.1 1053.8 906.9 1061.2 903.1 1066.2 895.0 1064.4 886.2 1068.8 880.0 1068.1 871.2ZM1066.2 895.0 1075.0 892.5 1081.2 893.1 1081.9 896.9 1085.0 901.9 1090.0 904.4 1082.5 906.9 1077.5 911.2 1073.8 916.2 1067.5 920.0 1065.0 925.6 1060.0 928.8 1052.5 929.4 1048.1 926.9 1044.4 922.5 1047.5 913.1 1053.8 906.9 1061.2 903.1 1066.2 895.0ZM1090.0 904.4 1095.6 903.9 1101.2 903.8 1096.2 910.0 1090.0 916.9 1093.1 922.5 1091.9 926.9 1086.7 929.3 1081.2 931.2 1080.0 937.5 1075.0 945.0 1070.0 942.5 1064.4 936.2 1064.6 930.8 1065.0 925.6 1067.5 920.0 1073.8 916.2 1077.5 911.2 1082.5 906.9 1090.0 904.4Z"/>
<path fill="#f5006e" d="M1205.0 950.0 1203.8 943.8 1208.8 937.5 1213.2 935.3 1218.2 933.3 1222.5 931.2 1227.0 928.1 1231.2 925.0 1235.6 923.2 1240.1 920.8 1245.0 918.8 1251.1 916.5 1256.2 915.0 1265.0 911.2 1267.5 910.0 1271.2 913.8 1276.2 916.9 1270.0 921.2 1265.0 923.3 1260.0 926.2 1251.2 930.0 1246.7 932.7 1242.5 936.2 1233.8 940.0 1228.6 940.5 1223.8 941.2 1215.0 945.0 1210.0 948.0 1205.0 950.0ZM1141.2 969.4 1147.0 964.9 1152.5 960.0 1158.7 956.2 1165.0 952.5 1169.7 948.8 1175.0 946.2 1180.0 945.5 1185.0 943.8 1190.0 941.2 1195.0 942.5 1203.8 943.8 1208.8 937.5 1213.5 935.3 1218.4 933.2 1222.5 931.2 1226.7 927.8 1231.2 925.0 1235.5 922.8 1241.0 920.8 1245.0 918.8 1243.8 912.5 1235.0 916.2 1228.8 918.1 1221.2 922.5 1212.5 926.2 1205.9 929.2 1200.0 932.5 1194.9 934.8 1190.0 938.1 1185.0 935.6 1180.0 941.2 1175.0 943.6 1170.0 945.6 1162.5 951.2 1157.6 953.9 1152.5 956.2 1146.2 960.0 1141.2 967.5 1141.2 969.4ZM1243.8 912.5 1246.2 908.8 1250.2 903.9 1255.0 900.0 1260.0 900.0 1262.5 901.9 1266.6 897.8 1270.0 893.1 1276.2 890.6 1278.8 893.1 1282.5 890.6 1290.0 885.6 1293.8 886.2 1295.6 891.9 1292.5 901.2 1290.0 906.2 1289.4 912.5 1282.5 913.1 1277.5 915.6 1276.2 916.9 1271.2 913.8 1267.5 910.0 1265.0 911.2 1256.2 915.0 1250.2 916.9 1245.0 918.8 1243.8 912.5ZM1295.6 891.9 1296.2 888.1 1300.0 888.8 1305.8 887.5 1311.7 885.7 1317.5 884.4 1320.0 888.1 1321.9 894.4 1318.8 901.2 1320.6 908.8 1315.4 910.4 1310.0 911.9 1306.2 915.6 1304.4 910.6 1297.2 911.0 1290.0 912.5 1289.4 912.5 1290.0 906.2 1292.5 901.2 1295.6 891.9Z"/>
<path fill="#50f070" d="M1316.2 941.2 1320.0 943.8 1325.0 950.0 1330.0 950.6 1335.0 948.1 1341.2 945.6 1338.1 951.2 1337.5 956.2 1331.6 957.9 1327.5 960.0 1320.8 962.6 1315.0 965.0 1310.2 966.7 1304.9 968.4 1300.0 970.0 1293.8 972.5 1288.7 972.7 1283.2 973.5 1277.5 973.8 1282.5 967.5 1290.0 961.2 1294.5 957.3 1298.8 952.5 1302.3 949.0 1306.2 945.0 1311.0 942.9 1316.2 941.2ZM1277.5 973.8 1282.6 973.5 1288.1 972.9 1293.8 972.5 1288.0 974.7 1283.5 976.3 1277.5 978.1 1272.2 980.5 1266.5 982.6 1260.0 984.8 1254.5 987.1 1250.0 988.2 1245.0 990.4 1251.2 985.0 1255.6 982.4 1260.4 980.5 1265.0 978.8 1271.7 976.4 1277.5 973.8Z"/>
</g>
</svg>
</body></html>
